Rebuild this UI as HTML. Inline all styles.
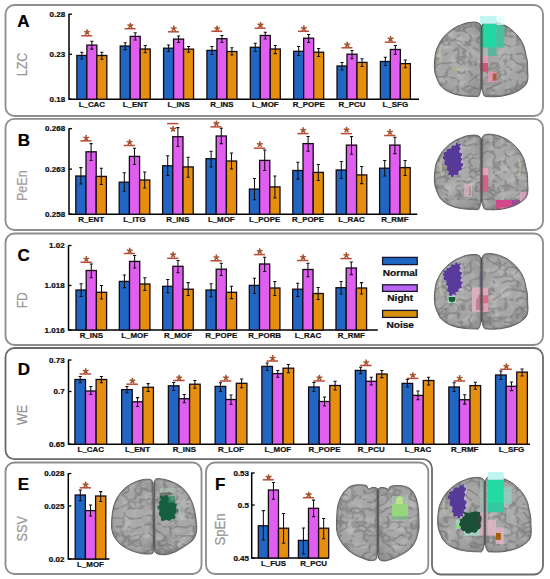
<!DOCTYPE html>
<html><head><meta charset="utf-8"><style>
html,body{margin:0;padding:0;background:#fff;}
body{width:550px;height:579px;overflow:hidden;}
svg{display:block;font-family:"Liberation Sans", sans-serif;}
</style></head><body>
<svg width="550" height="579" viewBox="0 0 550 579">
<defs>
<radialGradient id="bgrad" cx="50%" cy="45%" r="60%">
<stop offset="0" stop-color="#aeaeae"/><stop offset="0.7" stop-color="#a3a3a3"/><stop offset="1" stop-color="#929292"/>
</radialGradient>
<filter id="sul" x="0" y="0" width="1" height="1" color-interpolation-filters="sRGB">
<feTurbulence type="turbulence" baseFrequency="0.085 0.11" numOctaves="2" seed="4"/>
<feColorMatrix type="matrix" values="0 0 0 0 0.34  0 0 0 0 0.34  0 0 0 0 0.34  -3.8 0 0 0 0.95"/>
<feGaussianBlur stdDeviation="0.35"/>
</filter>
<filter id="hil" x="0" y="0" width="1" height="1" color-interpolation-filters="sRGB">
<feTurbulence type="fractalNoise" baseFrequency="0.09 0.12" numOctaves="2" seed="9"/>
<feColorMatrix type="matrix" values="0 0 0 0 0.78  0 0 0 0 0.78  0 0 0 0 0.78  3 0 0 0 -1.4"/>
</filter>
</defs>
<rect width="550" height="579" fill="#fff"/>
<clipPath id="bc1"><path d="M481,27 C480.72,24.25 480.33,24.3 479.5,23.5 C478.67,22.7 477.25,22.42 476,22.2 C474.75,21.98 473.67,22.07 472,22.2 C470.33,22.33 467.67,22.62 466,23 C464.33,23.38 463.5,23.92 462,24.5 C460.5,25.08 458.67,25.67 457,26.5 C455.33,27.33 453.67,28.33 452,29.5 C450.33,30.67 448.67,31.92 447,33.5 C445.33,35.08 443.42,37.08 442,39 C440.58,40.92 439.5,43 438.5,45 C437.5,47 436.58,49 436,51 C435.42,53 435.28,54.67 435,57 C434.72,59.33 434.3,62.33 434.3,65 C434.3,67.67 434.47,70.5 435,73 C435.53,75.5 436.67,78 437.5,80 C438.33,82 438.92,83.5 440,85 C441.08,86.5 442.33,87.75 444,89 C445.67,90.25 447.67,91.5 450,92.5 C452.33,93.5 455.17,94.38 458,95 C460.83,95.62 464.17,95.95 467,96.2 C469.83,96.45 473.08,96.48 475,96.5 C476.92,96.52 477.58,97.13 478.5,96.3 C479.42,95.47 480.05,93.22 480.5,91.5 C480.95,89.78 481.08,88.75 481.2,86 C481.32,83.25 481.2,80.17 481.2,75 C481.2,69.83 481.2,60.83 481.2,55 C481.2,49.17 481.23,44.67 481.2,40 C481.17,35.33 481.28,29.75 481,27 Z"/><path d="M482,27 C482.28,24.08 482.67,23.45 483.5,22.5 C484.33,21.55 485.92,21.52 487,21.3 C488.08,21.08 488.5,21.08 490,21.2 C491.5,21.32 494,21.53 496,22 C498,22.47 500,23.17 502,24 C504,24.83 506.17,25.83 508,27 C509.83,28.17 511.33,29.5 513,31 C514.67,32.5 516.5,34.17 518,36 C519.5,37.83 520.92,40 522,42 C523.08,44 523.83,45.83 524.5,48 C525.17,50.17 525.55,53 526,55 C526.45,57 526.93,58.25 527.2,60 C527.47,61.75 527.52,63.73 527.6,65.5 C527.68,67.27 527.63,68.93 527.7,70.6 C527.77,72.27 528.02,73.85 528,75.5 C527.98,77.15 527.93,79 527.6,80.5 C527.27,82 526.82,83.28 526,84.5 C525.18,85.72 524.07,86.7 522.7,87.8 C521.33,88.9 519.58,90.13 517.8,91.1 C516.02,92.07 513.9,92.92 512,93.6 C510.1,94.28 508.43,94.73 506.4,95.2 C504.37,95.67 501.98,96.13 499.8,96.4 C497.62,96.67 495.27,96.77 493.3,96.8 C491.33,96.83 489.47,96.72 488,96.6 C486.53,96.48 485.42,96.95 484.5,96.1 C483.58,95.25 482.95,93.18 482.5,91.5 C482.05,89.82 481.92,88.75 481.8,86 C481.68,83.25 481.8,80.17 481.8,75 C481.8,69.83 481.8,60.83 481.8,55 C481.8,49.17 481.77,44.67 481.8,40 C481.83,35.33 481.72,29.92 482,27 Z"/></clipPath>
<path d="M481,27 C480.72,24.25 480.33,24.3 479.5,23.5 C478.67,22.7 477.25,22.42 476,22.2 C474.75,21.98 473.67,22.07 472,22.2 C470.33,22.33 467.67,22.62 466,23 C464.33,23.38 463.5,23.92 462,24.5 C460.5,25.08 458.67,25.67 457,26.5 C455.33,27.33 453.67,28.33 452,29.5 C450.33,30.67 448.67,31.92 447,33.5 C445.33,35.08 443.42,37.08 442,39 C440.58,40.92 439.5,43 438.5,45 C437.5,47 436.58,49 436,51 C435.42,53 435.28,54.67 435,57 C434.72,59.33 434.3,62.33 434.3,65 C434.3,67.67 434.47,70.5 435,73 C435.53,75.5 436.67,78 437.5,80 C438.33,82 438.92,83.5 440,85 C441.08,86.5 442.33,87.75 444,89 C445.67,90.25 447.67,91.5 450,92.5 C452.33,93.5 455.17,94.38 458,95 C460.83,95.62 464.17,95.95 467,96.2 C469.83,96.45 473.08,96.48 475,96.5 C476.92,96.52 477.58,97.13 478.5,96.3 C479.42,95.47 480.05,93.22 480.5,91.5 C480.95,89.78 481.08,88.75 481.2,86 C481.32,83.25 481.2,80.17 481.2,75 C481.2,69.83 481.2,60.83 481.2,55 C481.2,49.17 481.23,44.67 481.2,40 C481.17,35.33 481.28,29.75 481,27 Z" fill="url(#bgrad)"/>
<path d="M482,27 C482.28,24.08 482.67,23.45 483.5,22.5 C484.33,21.55 485.92,21.52 487,21.3 C488.08,21.08 488.5,21.08 490,21.2 C491.5,21.32 494,21.53 496,22 C498,22.47 500,23.17 502,24 C504,24.83 506.17,25.83 508,27 C509.83,28.17 511.33,29.5 513,31 C514.67,32.5 516.5,34.17 518,36 C519.5,37.83 520.92,40 522,42 C523.08,44 523.83,45.83 524.5,48 C525.17,50.17 525.55,53 526,55 C526.45,57 526.93,58.25 527.2,60 C527.47,61.75 527.52,63.73 527.6,65.5 C527.68,67.27 527.63,68.93 527.7,70.6 C527.77,72.27 528.02,73.85 528,75.5 C527.98,77.15 527.93,79 527.6,80.5 C527.27,82 526.82,83.28 526,84.5 C525.18,85.72 524.07,86.7 522.7,87.8 C521.33,88.9 519.58,90.13 517.8,91.1 C516.02,92.07 513.9,92.92 512,93.6 C510.1,94.28 508.43,94.73 506.4,95.2 C504.37,95.67 501.98,96.13 499.8,96.4 C497.62,96.67 495.27,96.77 493.3,96.8 C491.33,96.83 489.47,96.72 488,96.6 C486.53,96.48 485.42,96.95 484.5,96.1 C483.58,95.25 482.95,93.18 482.5,91.5 C482.05,89.82 481.92,88.75 481.8,86 C481.68,83.25 481.8,80.17 481.8,75 C481.8,69.83 481.8,60.83 481.8,55 C481.8,49.17 481.77,44.67 481.8,40 C481.83,35.33 481.72,29.92 482,27 Z" fill="url(#bgrad)"/>
<g clip-path="url(#bc1)">
<rect x="434.3" y="21.2" width="93.7" height="75.6" filter="url(#hil)" opacity="0.6"/>
<rect x="434.3" y="21.2" width="93.7" height="75.6" filter="url(#sul)" opacity="0.5"/>
<path d="M442,44 Q438,52 441,62" stroke="#d6cfa6" stroke-width="2" fill="none" stroke-opacity="0.45"/>
<path d="M452,68 Q456,70 460,70" stroke="#d0cc80" stroke-width="2.4" fill="none" stroke-opacity="0.5"/>
<rect x="480" y="23.7" width="16.6" height="23.9" fill="#22d8a2" fill-opacity="1"/>
<rect x="496.6" y="25" width="7.7" height="22.6" fill="#48bf9f" fill-opacity="1"/>
<rect x="488" y="47.6" width="8.6" height="8.4" fill="#5cb49c" fill-opacity="1"/>
<rect x="480" y="47.6" width="8" height="8.4" fill="#a8bcb4" fill-opacity="0.7"/>
<rect x="480" y="56" width="8" height="7" fill="#dc9cb4" fill-opacity="1"/>
<rect x="480" y="63" width="8" height="8.6" fill="#cc5476" fill-opacity="1"/>
<rect x="488" y="71.6" width="8.6" height="10.4" fill="#e296ae" fill-opacity="0.9"/>
<rect x="492.7" y="73.5" width="3.9" height="7.1" fill="#a4562a" fill-opacity="0.9"/>
<path d="M481,27 C480.72,24.25 480.33,24.3 479.5,23.5 C478.67,22.7 477.25,22.42 476,22.2 C474.75,21.98 473.67,22.07 472,22.2 C470.33,22.33 467.67,22.62 466,23 C464.33,23.38 463.5,23.92 462,24.5 C460.5,25.08 458.67,25.67 457,26.5 C455.33,27.33 453.67,28.33 452,29.5 C450.33,30.67 448.67,31.92 447,33.5 C445.33,35.08 443.42,37.08 442,39 C440.58,40.92 439.5,43 438.5,45 C437.5,47 436.58,49 436,51 C435.42,53 435.28,54.67 435,57 C434.72,59.33 434.3,62.33 434.3,65 C434.3,67.67 434.47,70.5 435,73 C435.53,75.5 436.67,78 437.5,80 C438.33,82 438.92,83.5 440,85 C441.08,86.5 442.33,87.75 444,89 C445.67,90.25 447.67,91.5 450,92.5 C452.33,93.5 455.17,94.38 458,95 C460.83,95.62 464.17,95.95 467,96.2 C469.83,96.45 473.08,96.48 475,96.5 C476.92,96.52 477.58,97.13 478.5,96.3 C479.42,95.47 480.05,93.22 480.5,91.5 C480.95,89.78 481.08,88.75 481.2,86 C481.32,83.25 481.2,80.17 481.2,75 C481.2,69.83 481.2,60.83 481.2,55 C481.2,49.17 481.23,44.67 481.2,40 C481.17,35.33 481.28,29.75 481,27 Z" fill="none" stroke="#6a6a6a" stroke-opacity="0.35" stroke-width="3"/>
<path d="M482,27 C482.28,24.08 482.67,23.45 483.5,22.5 C484.33,21.55 485.92,21.52 487,21.3 C488.08,21.08 488.5,21.08 490,21.2 C491.5,21.32 494,21.53 496,22 C498,22.47 500,23.17 502,24 C504,24.83 506.17,25.83 508,27 C509.83,28.17 511.33,29.5 513,31 C514.67,32.5 516.5,34.17 518,36 C519.5,37.83 520.92,40 522,42 C523.08,44 523.83,45.83 524.5,48 C525.17,50.17 525.55,53 526,55 C526.45,57 526.93,58.25 527.2,60 C527.47,61.75 527.52,63.73 527.6,65.5 C527.68,67.27 527.63,68.93 527.7,70.6 C527.77,72.27 528.02,73.85 528,75.5 C527.98,77.15 527.93,79 527.6,80.5 C527.27,82 526.82,83.28 526,84.5 C525.18,85.72 524.07,86.7 522.7,87.8 C521.33,88.9 519.58,90.13 517.8,91.1 C516.02,92.07 513.9,92.92 512,93.6 C510.1,94.28 508.43,94.73 506.4,95.2 C504.37,95.67 501.98,96.13 499.8,96.4 C497.62,96.67 495.27,96.77 493.3,96.8 C491.33,96.83 489.47,96.72 488,96.6 C486.53,96.48 485.42,96.95 484.5,96.1 C483.58,95.25 482.95,93.18 482.5,91.5 C482.05,89.82 481.92,88.75 481.8,86 C481.68,83.25 481.8,80.17 481.8,75 C481.8,69.83 481.8,60.83 481.8,55 C481.8,49.17 481.77,44.67 481.8,40 C481.83,35.33 481.72,29.92 482,27 Z" fill="none" stroke="#6a6a6a" stroke-opacity="0.35" stroke-width="3"/>
</g>
<path d="M481,27 C480.72,24.25 480.33,24.3 479.5,23.5 C478.67,22.7 477.25,22.42 476,22.2 C474.75,21.98 473.67,22.07 472,22.2 C470.33,22.33 467.67,22.62 466,23 C464.33,23.38 463.5,23.92 462,24.5 C460.5,25.08 458.67,25.67 457,26.5 C455.33,27.33 453.67,28.33 452,29.5 C450.33,30.67 448.67,31.92 447,33.5 C445.33,35.08 443.42,37.08 442,39 C440.58,40.92 439.5,43 438.5,45 C437.5,47 436.58,49 436,51 C435.42,53 435.28,54.67 435,57 C434.72,59.33 434.3,62.33 434.3,65 C434.3,67.67 434.47,70.5 435,73 C435.53,75.5 436.67,78 437.5,80 C438.33,82 438.92,83.5 440,85 C441.08,86.5 442.33,87.75 444,89 C445.67,90.25 447.67,91.5 450,92.5 C452.33,93.5 455.17,94.38 458,95 C460.83,95.62 464.17,95.95 467,96.2 C469.83,96.45 473.08,96.48 475,96.5 C476.92,96.52 477.58,97.13 478.5,96.3 C479.42,95.47 480.05,93.22 480.5,91.5 C480.95,89.78 481.08,88.75 481.2,86 C481.32,83.25 481.2,80.17 481.2,75 C481.2,69.83 481.2,60.83 481.2,55 C481.2,49.17 481.23,44.67 481.2,40 C481.17,35.33 481.28,29.75 481,27 Z" fill="none" stroke="#5a5a5a" stroke-width="0.9"/>
<path d="M482,27 C482.28,24.08 482.67,23.45 483.5,22.5 C484.33,21.55 485.92,21.52 487,21.3 C488.08,21.08 488.5,21.08 490,21.2 C491.5,21.32 494,21.53 496,22 C498,22.47 500,23.17 502,24 C504,24.83 506.17,25.83 508,27 C509.83,28.17 511.33,29.5 513,31 C514.67,32.5 516.5,34.17 518,36 C519.5,37.83 520.92,40 522,42 C523.08,44 523.83,45.83 524.5,48 C525.17,50.17 525.55,53 526,55 C526.45,57 526.93,58.25 527.2,60 C527.47,61.75 527.52,63.73 527.6,65.5 C527.68,67.27 527.63,68.93 527.7,70.6 C527.77,72.27 528.02,73.85 528,75.5 C527.98,77.15 527.93,79 527.6,80.5 C527.27,82 526.82,83.28 526,84.5 C525.18,85.72 524.07,86.7 522.7,87.8 C521.33,88.9 519.58,90.13 517.8,91.1 C516.02,92.07 513.9,92.92 512,93.6 C510.1,94.28 508.43,94.73 506.4,95.2 C504.37,95.67 501.98,96.13 499.8,96.4 C497.62,96.67 495.27,96.77 493.3,96.8 C491.33,96.83 489.47,96.72 488,96.6 C486.53,96.48 485.42,96.95 484.5,96.1 C483.58,95.25 482.95,93.18 482.5,91.5 C482.05,89.82 481.92,88.75 481.8,86 C481.68,83.25 481.8,80.17 481.8,75 C481.8,69.83 481.8,60.83 481.8,55 C481.8,49.17 481.77,44.67 481.8,40 C481.83,35.33 481.72,29.92 482,27 Z" fill="none" stroke="#5a5a5a" stroke-width="0.9"/>
<path d="M481.5,25.2 V89.5" stroke="#555" stroke-width="1.3"/>
<rect x="480.1" y="15.9" width="16.5" height="7.8" fill="#c0f6f2" fill-opacity="1"/>
<rect x="496.6" y="15.9" width="7.7" height="9.1" fill="#e2fbfa" fill-opacity="0.8"/>
<clipPath id="bc2"><path d="M481,140 C480.72,137.25 480.33,137.3 479.5,136.5 C478.67,135.7 477.25,135.42 476,135.2 C474.75,134.98 473.67,135.07 472,135.2 C470.33,135.33 467.67,135.62 466,136 C464.33,136.38 463.5,136.92 462,137.5 C460.5,138.08 458.67,138.67 457,139.5 C455.33,140.33 453.67,141.33 452,142.5 C450.33,143.67 448.67,144.92 447,146.5 C445.33,148.08 443.42,150.08 442,152 C440.58,153.92 439.5,156 438.5,158 C437.5,160 436.58,162 436,164 C435.42,166 435.28,167.67 435,170 C434.72,172.33 434.3,175.33 434.3,178 C434.3,180.67 434.47,183.5 435,186 C435.53,188.5 436.67,191 437.5,193 C438.33,195 438.92,196.5 440,198 C441.08,199.5 442.33,200.75 444,202 C445.67,203.25 447.67,204.5 450,205.5 C452.33,206.5 455.17,207.38 458,208 C460.83,208.62 464.17,208.95 467,209.2 C469.83,209.45 473.08,209.48 475,209.5 C476.92,209.52 477.58,210.13 478.5,209.3 C479.42,208.47 480.05,206.22 480.5,204.5 C480.95,202.78 481.08,201.75 481.2,199 C481.32,196.25 481.2,193.17 481.2,188 C481.2,182.83 481.2,173.83 481.2,168 C481.2,162.17 481.23,157.67 481.2,153 C481.17,148.33 481.28,142.75 481,140 Z"/><path d="M482,140 C482.28,137.08 482.67,136.45 483.5,135.5 C484.33,134.55 485.92,134.52 487,134.3 C488.08,134.08 488.5,134.08 490,134.2 C491.5,134.32 494,134.53 496,135 C498,135.47 500,136.17 502,137 C504,137.83 506.17,138.83 508,140 C509.83,141.17 511.33,142.5 513,144 C514.67,145.5 516.5,147.17 518,149 C519.5,150.83 520.92,153 522,155 C523.08,157 523.83,158.83 524.5,161 C525.17,163.17 525.55,166 526,168 C526.45,170 526.93,171.25 527.2,173 C527.47,174.75 527.52,176.73 527.6,178.5 C527.68,180.27 527.63,181.93 527.7,183.6 C527.77,185.27 528.02,186.85 528,188.5 C527.98,190.15 527.93,192 527.6,193.5 C527.27,195 526.82,196.28 526,197.5 C525.18,198.72 524.07,199.7 522.7,200.8 C521.33,201.9 519.58,203.13 517.8,204.1 C516.02,205.07 513.9,205.92 512,206.6 C510.1,207.28 508.43,207.73 506.4,208.2 C504.37,208.67 501.98,209.13 499.8,209.4 C497.62,209.67 495.27,209.77 493.3,209.8 C491.33,209.83 489.47,209.72 488,209.6 C486.53,209.48 485.42,209.95 484.5,209.1 C483.58,208.25 482.95,206.18 482.5,204.5 C482.05,202.82 481.92,201.75 481.8,199 C481.68,196.25 481.8,193.17 481.8,188 C481.8,182.83 481.8,173.83 481.8,168 C481.8,162.17 481.77,157.67 481.8,153 C481.83,148.33 481.72,142.92 482,140 Z"/></clipPath>
<path d="M481,140 C480.72,137.25 480.33,137.3 479.5,136.5 C478.67,135.7 477.25,135.42 476,135.2 C474.75,134.98 473.67,135.07 472,135.2 C470.33,135.33 467.67,135.62 466,136 C464.33,136.38 463.5,136.92 462,137.5 C460.5,138.08 458.67,138.67 457,139.5 C455.33,140.33 453.67,141.33 452,142.5 C450.33,143.67 448.67,144.92 447,146.5 C445.33,148.08 443.42,150.08 442,152 C440.58,153.92 439.5,156 438.5,158 C437.5,160 436.58,162 436,164 C435.42,166 435.28,167.67 435,170 C434.72,172.33 434.3,175.33 434.3,178 C434.3,180.67 434.47,183.5 435,186 C435.53,188.5 436.67,191 437.5,193 C438.33,195 438.92,196.5 440,198 C441.08,199.5 442.33,200.75 444,202 C445.67,203.25 447.67,204.5 450,205.5 C452.33,206.5 455.17,207.38 458,208 C460.83,208.62 464.17,208.95 467,209.2 C469.83,209.45 473.08,209.48 475,209.5 C476.92,209.52 477.58,210.13 478.5,209.3 C479.42,208.47 480.05,206.22 480.5,204.5 C480.95,202.78 481.08,201.75 481.2,199 C481.32,196.25 481.2,193.17 481.2,188 C481.2,182.83 481.2,173.83 481.2,168 C481.2,162.17 481.23,157.67 481.2,153 C481.17,148.33 481.28,142.75 481,140 Z" fill="url(#bgrad)"/>
<path d="M482,140 C482.28,137.08 482.67,136.45 483.5,135.5 C484.33,134.55 485.92,134.52 487,134.3 C488.08,134.08 488.5,134.08 490,134.2 C491.5,134.32 494,134.53 496,135 C498,135.47 500,136.17 502,137 C504,137.83 506.17,138.83 508,140 C509.83,141.17 511.33,142.5 513,144 C514.67,145.5 516.5,147.17 518,149 C519.5,150.83 520.92,153 522,155 C523.08,157 523.83,158.83 524.5,161 C525.17,163.17 525.55,166 526,168 C526.45,170 526.93,171.25 527.2,173 C527.47,174.75 527.52,176.73 527.6,178.5 C527.68,180.27 527.63,181.93 527.7,183.6 C527.77,185.27 528.02,186.85 528,188.5 C527.98,190.15 527.93,192 527.6,193.5 C527.27,195 526.82,196.28 526,197.5 C525.18,198.72 524.07,199.7 522.7,200.8 C521.33,201.9 519.58,203.13 517.8,204.1 C516.02,205.07 513.9,205.92 512,206.6 C510.1,207.28 508.43,207.73 506.4,208.2 C504.37,208.67 501.98,209.13 499.8,209.4 C497.62,209.67 495.27,209.77 493.3,209.8 C491.33,209.83 489.47,209.72 488,209.6 C486.53,209.48 485.42,209.95 484.5,209.1 C483.58,208.25 482.95,206.18 482.5,204.5 C482.05,202.82 481.92,201.75 481.8,199 C481.68,196.25 481.8,193.17 481.8,188 C481.8,182.83 481.8,173.83 481.8,168 C481.8,162.17 481.77,157.67 481.8,153 C481.83,148.33 481.72,142.92 482,140 Z" fill="url(#bgrad)"/>
<g clip-path="url(#bc2)">
<rect x="434.3" y="134.2" width="93.7" height="75.6" filter="url(#hil)" opacity="0.6"/>
<rect x="434.3" y="134.2" width="93.7" height="75.6" filter="url(#sul)" opacity="0.5"/>
<path d="M442,157 Q439,166 442,176" stroke="#d6cfa6" stroke-width="2.2" fill="none" stroke-opacity="0.45"/>
<path d="M518,158 Q522,166 519,176" stroke="#d6cfa6" stroke-width="2" fill="none" stroke-opacity="0.45"/>
<path d="M459,143.2 C459.68,143.14 461.73,144.17 461.9,144.9 C462.07,145.63 460.59,149.43 460.7,150.5 C460.81,151.57 462.83,154.58 463,155.6 C463.17,156.62 462.29,159.69 462.4,160.7 C462.51,161.71 464.15,164.75 464.1,165.7 C464.05,166.65 462.57,169.24 461.9,170.2 C461.23,171.16 458.36,174.68 457.4,175.3 C456.44,175.92 453.09,176.57 452.3,176.4 C451.51,176.23 449.89,174.44 449.5,173.6 C449.11,172.76 448.79,169.13 448.4,168 C448.01,166.87 446,163.48 445.6,162.3 C445.2,161.12 444.4,157.21 444.4,156.2 C444.4,155.19 445.03,152.93 445.6,152.2 C446.17,151.47 449.15,149.57 450.1,148.9 C451.05,148.23 454.21,146.07 455.1,145.5 C455.99,144.93 458.32,143.26 459,143.2 Z" fill="#c8b8dc" fill-opacity="0.7"/>
<path d="M457.8,143.2 C458.03,143.33 458.06,144.5 458.3,144.54 C458.54,144.57 459.93,143.51 460.17,143.55 C460.41,143.58 460.77,144.6 460.7,144.9 C460.63,145.2 459.42,146.17 459.42,146.56 C459.43,146.95 460.78,148.39 460.79,148.78 C460.8,149.18 459.63,150.12 459.5,150.5 C459.37,150.88 459.2,152.25 459.44,152.55 C459.67,152.85 461.6,153.19 461.84,153.5 C462.07,153.8 461.91,155.23 461.8,155.6 C461.69,155.97 460.66,156.83 460.71,157.18 C460.76,157.52 462.25,158.72 462.3,159.07 C462.35,159.42 461.34,160.34 461.2,160.7 C461.06,161.06 460.71,162.34 460.91,162.64 C461.11,162.94 462.97,163.4 463.17,163.71 C463.37,164.02 463.08,165.39 462.9,165.7 C462.72,166.01 461.43,166.45 461.37,166.79 C461.3,167.13 462.32,168.72 462.26,169.07 C462.19,169.41 461.07,169.98 460.7,170.2 C460.33,170.42 458.77,170.89 458.54,171.29 C458.31,171.68 458.64,173.76 458.4,174.16 C458.17,174.56 456.61,175.24 456.2,175.3 C455.79,175.36 454.64,174.62 454.33,174.78 C454.01,174.94 453.35,176.74 453.02,176.91 C452.7,177.07 451.32,176.61 451.1,176.4 C450.88,176.19 451.06,174.96 450.81,174.84 C450.56,174.72 448.87,175.31 448.62,175.19 C448.36,175.06 448.28,173.96 448.3,173.6 C448.32,173.24 448.98,171.93 448.82,171.58 C448.66,171.23 446.85,170.44 446.69,170.08 C446.53,169.72 447.16,168.44 447.2,168 C447.24,167.56 447.35,166.06 447.08,165.72 C446.82,165.39 444.81,164.98 444.54,164.63 C444.28,164.29 444.37,162.75 444.4,162.3 C444.43,161.85 445.05,160.5 444.89,160.11 C444.72,159.73 442.89,158.84 442.72,158.45 C442.56,158.06 443.03,156.53 443.2,156.2 C443.37,155.87 444.47,155.43 444.46,155.14 C444.45,154.85 443.14,153.6 443.13,153.3 C443.12,153.01 444.07,152.35 444.4,152.2 C444.73,152.05 446.17,152.13 446.42,151.84 C446.66,151.55 446.59,149.59 446.84,149.3 C447.09,149 448.48,148.98 448.9,148.9 C449.32,148.82 450.78,148.82 451.06,148.52 C451.34,148.22 451.41,146.21 451.69,145.91 C451.98,145.61 453.5,145.54 453.9,145.5 C454.3,145.46 455.43,145.75 455.64,145.52 C455.86,145.29 455.8,143.44 456.02,143.21 C456.23,142.98 457.57,143.07 457.8,143.2 Z" fill="#563a98" fill-opacity="1"/>
<rect x="480.3" y="168" width="7.9" height="7.3" fill="#e4a4bc" fill-opacity="1"/>
<rect x="480.3" y="175.3" width="7.9" height="16.2" fill="#d26284" fill-opacity="1"/>
<rect x="464" y="184.2" width="8" height="12.8" fill="#e2bacb" fill-opacity="0.6"/>
<rect x="469" y="186" width="1.8" height="10" fill="#b07040" fill-opacity="0.45"/>
<rect x="520" y="192" width="8" height="18" fill="#e4a6c4" fill-opacity="0.8"/>
<rect x="496" y="200" width="16" height="10" fill="#d2488a" fill-opacity="1"/>
<rect x="512" y="200" width="8" height="10" fill="#9a4c96" fill-opacity="1"/>
<rect x="500" y="207.5" width="28" height="3.5" fill="#f2c4e4" fill-opacity="0.6"/>
<path d="M481,140 C480.72,137.25 480.33,137.3 479.5,136.5 C478.67,135.7 477.25,135.42 476,135.2 C474.75,134.98 473.67,135.07 472,135.2 C470.33,135.33 467.67,135.62 466,136 C464.33,136.38 463.5,136.92 462,137.5 C460.5,138.08 458.67,138.67 457,139.5 C455.33,140.33 453.67,141.33 452,142.5 C450.33,143.67 448.67,144.92 447,146.5 C445.33,148.08 443.42,150.08 442,152 C440.58,153.92 439.5,156 438.5,158 C437.5,160 436.58,162 436,164 C435.42,166 435.28,167.67 435,170 C434.72,172.33 434.3,175.33 434.3,178 C434.3,180.67 434.47,183.5 435,186 C435.53,188.5 436.67,191 437.5,193 C438.33,195 438.92,196.5 440,198 C441.08,199.5 442.33,200.75 444,202 C445.67,203.25 447.67,204.5 450,205.5 C452.33,206.5 455.17,207.38 458,208 C460.83,208.62 464.17,208.95 467,209.2 C469.83,209.45 473.08,209.48 475,209.5 C476.92,209.52 477.58,210.13 478.5,209.3 C479.42,208.47 480.05,206.22 480.5,204.5 C480.95,202.78 481.08,201.75 481.2,199 C481.32,196.25 481.2,193.17 481.2,188 C481.2,182.83 481.2,173.83 481.2,168 C481.2,162.17 481.23,157.67 481.2,153 C481.17,148.33 481.28,142.75 481,140 Z" fill="none" stroke="#6a6a6a" stroke-opacity="0.35" stroke-width="3"/>
<path d="M482,140 C482.28,137.08 482.67,136.45 483.5,135.5 C484.33,134.55 485.92,134.52 487,134.3 C488.08,134.08 488.5,134.08 490,134.2 C491.5,134.32 494,134.53 496,135 C498,135.47 500,136.17 502,137 C504,137.83 506.17,138.83 508,140 C509.83,141.17 511.33,142.5 513,144 C514.67,145.5 516.5,147.17 518,149 C519.5,150.83 520.92,153 522,155 C523.08,157 523.83,158.83 524.5,161 C525.17,163.17 525.55,166 526,168 C526.45,170 526.93,171.25 527.2,173 C527.47,174.75 527.52,176.73 527.6,178.5 C527.68,180.27 527.63,181.93 527.7,183.6 C527.77,185.27 528.02,186.85 528,188.5 C527.98,190.15 527.93,192 527.6,193.5 C527.27,195 526.82,196.28 526,197.5 C525.18,198.72 524.07,199.7 522.7,200.8 C521.33,201.9 519.58,203.13 517.8,204.1 C516.02,205.07 513.9,205.92 512,206.6 C510.1,207.28 508.43,207.73 506.4,208.2 C504.37,208.67 501.98,209.13 499.8,209.4 C497.62,209.67 495.27,209.77 493.3,209.8 C491.33,209.83 489.47,209.72 488,209.6 C486.53,209.48 485.42,209.95 484.5,209.1 C483.58,208.25 482.95,206.18 482.5,204.5 C482.05,202.82 481.92,201.75 481.8,199 C481.68,196.25 481.8,193.17 481.8,188 C481.8,182.83 481.8,173.83 481.8,168 C481.8,162.17 481.77,157.67 481.8,153 C481.83,148.33 481.72,142.92 482,140 Z" fill="none" stroke="#6a6a6a" stroke-opacity="0.35" stroke-width="3"/>
</g>
<path d="M481,140 C480.72,137.25 480.33,137.3 479.5,136.5 C478.67,135.7 477.25,135.42 476,135.2 C474.75,134.98 473.67,135.07 472,135.2 C470.33,135.33 467.67,135.62 466,136 C464.33,136.38 463.5,136.92 462,137.5 C460.5,138.08 458.67,138.67 457,139.5 C455.33,140.33 453.67,141.33 452,142.5 C450.33,143.67 448.67,144.92 447,146.5 C445.33,148.08 443.42,150.08 442,152 C440.58,153.92 439.5,156 438.5,158 C437.5,160 436.58,162 436,164 C435.42,166 435.28,167.67 435,170 C434.72,172.33 434.3,175.33 434.3,178 C434.3,180.67 434.47,183.5 435,186 C435.53,188.5 436.67,191 437.5,193 C438.33,195 438.92,196.5 440,198 C441.08,199.5 442.33,200.75 444,202 C445.67,203.25 447.67,204.5 450,205.5 C452.33,206.5 455.17,207.38 458,208 C460.83,208.62 464.17,208.95 467,209.2 C469.83,209.45 473.08,209.48 475,209.5 C476.92,209.52 477.58,210.13 478.5,209.3 C479.42,208.47 480.05,206.22 480.5,204.5 C480.95,202.78 481.08,201.75 481.2,199 C481.32,196.25 481.2,193.17 481.2,188 C481.2,182.83 481.2,173.83 481.2,168 C481.2,162.17 481.23,157.67 481.2,153 C481.17,148.33 481.28,142.75 481,140 Z" fill="none" stroke="#5a5a5a" stroke-width="0.9"/>
<path d="M482,140 C482.28,137.08 482.67,136.45 483.5,135.5 C484.33,134.55 485.92,134.52 487,134.3 C488.08,134.08 488.5,134.08 490,134.2 C491.5,134.32 494,134.53 496,135 C498,135.47 500,136.17 502,137 C504,137.83 506.17,138.83 508,140 C509.83,141.17 511.33,142.5 513,144 C514.67,145.5 516.5,147.17 518,149 C519.5,150.83 520.92,153 522,155 C523.08,157 523.83,158.83 524.5,161 C525.17,163.17 525.55,166 526,168 C526.45,170 526.93,171.25 527.2,173 C527.47,174.75 527.52,176.73 527.6,178.5 C527.68,180.27 527.63,181.93 527.7,183.6 C527.77,185.27 528.02,186.85 528,188.5 C527.98,190.15 527.93,192 527.6,193.5 C527.27,195 526.82,196.28 526,197.5 C525.18,198.72 524.07,199.7 522.7,200.8 C521.33,201.9 519.58,203.13 517.8,204.1 C516.02,205.07 513.9,205.92 512,206.6 C510.1,207.28 508.43,207.73 506.4,208.2 C504.37,208.67 501.98,209.13 499.8,209.4 C497.62,209.67 495.27,209.77 493.3,209.8 C491.33,209.83 489.47,209.72 488,209.6 C486.53,209.48 485.42,209.95 484.5,209.1 C483.58,208.25 482.95,206.18 482.5,204.5 C482.05,202.82 481.92,201.75 481.8,199 C481.68,196.25 481.8,193.17 481.8,188 C481.8,182.83 481.8,173.83 481.8,168 C481.8,162.17 481.77,157.67 481.8,153 C481.83,148.33 481.72,142.92 482,140 Z" fill="none" stroke="#5a5a5a" stroke-width="0.9"/>
<path d="M481.5,138.2 V202.5" stroke="#555" stroke-width="1.3"/>
<clipPath id="bc3"><path d="M481,259.4 C480.72,256.65 480.33,256.7 479.5,255.9 C478.67,255.1 477.25,254.82 476,254.6 C474.75,254.38 473.67,254.47 472,254.6 C470.33,254.73 467.67,255.02 466,255.4 C464.33,255.78 463.5,256.32 462,256.9 C460.5,257.48 458.67,258.07 457,258.9 C455.33,259.73 453.67,260.73 452,261.9 C450.33,263.07 448.67,264.32 447,265.9 C445.33,267.48 443.42,269.48 442,271.4 C440.58,273.32 439.5,275.4 438.5,277.4 C437.5,279.4 436.58,281.4 436,283.4 C435.42,285.4 435.28,287.07 435,289.4 C434.72,291.73 434.3,294.73 434.3,297.4 C434.3,300.07 434.47,302.9 435,305.4 C435.53,307.9 436.67,310.4 437.5,312.4 C438.33,314.4 438.92,315.9 440,317.4 C441.08,318.9 442.33,320.15 444,321.4 C445.67,322.65 447.67,323.9 450,324.9 C452.33,325.9 455.17,326.78 458,327.4 C460.83,328.02 464.17,328.35 467,328.6 C469.83,328.85 473.08,328.88 475,328.9 C476.92,328.92 477.58,329.53 478.5,328.7 C479.42,327.87 480.05,325.62 480.5,323.9 C480.95,322.18 481.08,321.15 481.2,318.4 C481.32,315.65 481.2,312.57 481.2,307.4 C481.2,302.23 481.2,293.23 481.2,287.4 C481.2,281.57 481.23,277.07 481.2,272.4 C481.17,267.73 481.28,262.15 481,259.4 Z"/><path d="M482,259.4 C482.28,256.48 482.67,255.85 483.5,254.9 C484.33,253.95 485.92,253.92 487,253.7 C488.08,253.48 488.5,253.48 490,253.6 C491.5,253.72 494,253.93 496,254.4 C498,254.87 500,255.57 502,256.4 C504,257.23 506.17,258.23 508,259.4 C509.83,260.57 511.33,261.9 513,263.4 C514.67,264.9 516.5,266.57 518,268.4 C519.5,270.23 520.92,272.4 522,274.4 C523.08,276.4 523.83,278.23 524.5,280.4 C525.17,282.57 525.55,285.4 526,287.4 C526.45,289.4 526.93,290.65 527.2,292.4 C527.47,294.15 527.52,296.13 527.6,297.9 C527.68,299.67 527.63,301.33 527.7,303 C527.77,304.67 528.02,306.25 528,307.9 C527.98,309.55 527.93,311.4 527.6,312.9 C527.27,314.4 526.82,315.68 526,316.9 C525.18,318.12 524.07,319.1 522.7,320.2 C521.33,321.3 519.58,322.53 517.8,323.5 C516.02,324.47 513.9,325.32 512,326 C510.1,326.68 508.43,327.13 506.4,327.6 C504.37,328.07 501.98,328.53 499.8,328.8 C497.62,329.07 495.27,329.17 493.3,329.2 C491.33,329.23 489.47,329.12 488,329 C486.53,328.88 485.42,329.35 484.5,328.5 C483.58,327.65 482.95,325.58 482.5,323.9 C482.05,322.22 481.92,321.15 481.8,318.4 C481.68,315.65 481.8,312.57 481.8,307.4 C481.8,302.23 481.8,293.23 481.8,287.4 C481.8,281.57 481.77,277.07 481.8,272.4 C481.83,267.73 481.72,262.32 482,259.4 Z"/></clipPath>
<path d="M481,259.4 C480.72,256.65 480.33,256.7 479.5,255.9 C478.67,255.1 477.25,254.82 476,254.6 C474.75,254.38 473.67,254.47 472,254.6 C470.33,254.73 467.67,255.02 466,255.4 C464.33,255.78 463.5,256.32 462,256.9 C460.5,257.48 458.67,258.07 457,258.9 C455.33,259.73 453.67,260.73 452,261.9 C450.33,263.07 448.67,264.32 447,265.9 C445.33,267.48 443.42,269.48 442,271.4 C440.58,273.32 439.5,275.4 438.5,277.4 C437.5,279.4 436.58,281.4 436,283.4 C435.42,285.4 435.28,287.07 435,289.4 C434.72,291.73 434.3,294.73 434.3,297.4 C434.3,300.07 434.47,302.9 435,305.4 C435.53,307.9 436.67,310.4 437.5,312.4 C438.33,314.4 438.92,315.9 440,317.4 C441.08,318.9 442.33,320.15 444,321.4 C445.67,322.65 447.67,323.9 450,324.9 C452.33,325.9 455.17,326.78 458,327.4 C460.83,328.02 464.17,328.35 467,328.6 C469.83,328.85 473.08,328.88 475,328.9 C476.92,328.92 477.58,329.53 478.5,328.7 C479.42,327.87 480.05,325.62 480.5,323.9 C480.95,322.18 481.08,321.15 481.2,318.4 C481.32,315.65 481.2,312.57 481.2,307.4 C481.2,302.23 481.2,293.23 481.2,287.4 C481.2,281.57 481.23,277.07 481.2,272.4 C481.17,267.73 481.28,262.15 481,259.4 Z" fill="url(#bgrad)"/>
<path d="M482,259.4 C482.28,256.48 482.67,255.85 483.5,254.9 C484.33,253.95 485.92,253.92 487,253.7 C488.08,253.48 488.5,253.48 490,253.6 C491.5,253.72 494,253.93 496,254.4 C498,254.87 500,255.57 502,256.4 C504,257.23 506.17,258.23 508,259.4 C509.83,260.57 511.33,261.9 513,263.4 C514.67,264.9 516.5,266.57 518,268.4 C519.5,270.23 520.92,272.4 522,274.4 C523.08,276.4 523.83,278.23 524.5,280.4 C525.17,282.57 525.55,285.4 526,287.4 C526.45,289.4 526.93,290.65 527.2,292.4 C527.47,294.15 527.52,296.13 527.6,297.9 C527.68,299.67 527.63,301.33 527.7,303 C527.77,304.67 528.02,306.25 528,307.9 C527.98,309.55 527.93,311.4 527.6,312.9 C527.27,314.4 526.82,315.68 526,316.9 C525.18,318.12 524.07,319.1 522.7,320.2 C521.33,321.3 519.58,322.53 517.8,323.5 C516.02,324.47 513.9,325.32 512,326 C510.1,326.68 508.43,327.13 506.4,327.6 C504.37,328.07 501.98,328.53 499.8,328.8 C497.62,329.07 495.27,329.17 493.3,329.2 C491.33,329.23 489.47,329.12 488,329 C486.53,328.88 485.42,329.35 484.5,328.5 C483.58,327.65 482.95,325.58 482.5,323.9 C482.05,322.22 481.92,321.15 481.8,318.4 C481.68,315.65 481.8,312.57 481.8,307.4 C481.8,302.23 481.8,293.23 481.8,287.4 C481.8,281.57 481.77,277.07 481.8,272.4 C481.83,267.73 481.72,262.32 482,259.4 Z" fill="url(#bgrad)"/>
<g clip-path="url(#bc3)">
<rect x="434.3" y="253.6" width="93.7" height="75.6" filter="url(#hil)" opacity="0.6"/>
<rect x="434.3" y="253.6" width="93.7" height="75.6" filter="url(#sul)" opacity="0.5"/>
<path d="M442,273 Q438,284 442,296" stroke="#d6cfa6" stroke-width="2.2" fill="none" stroke-opacity="0.45"/>
<path d="M458.5,262.9 C459.24,262.9 461.68,263.92 461.9,264.6 C462.12,265.28 460.59,268.74 460.7,269.7 C460.81,270.66 462.88,273.25 463,274.2 C463.12,275.15 461.85,278.25 461.9,279.2 C461.95,280.15 463.5,282.8 463.5,283.7 C463.5,284.6 462.51,287.36 461.9,288.2 C461.29,289.04 457.91,291.42 457.4,292.1 C456.89,292.78 457.53,294.71 456.8,295 C456.07,295.29 450.89,295.68 450.1,295 C449.31,294.32 449.13,289.44 448.9,288.2 C448.67,286.96 448.19,283.67 447.8,282.6 C447.41,281.53 445.34,278.4 445,277.5 C444.66,276.6 444.34,274.27 444.4,273.6 C444.46,272.93 445.03,271.36 445.6,270.8 C446.17,270.24 449.21,268.62 450.1,268 C450.99,267.38 453.66,265.11 454.5,264.6 C455.34,264.09 457.76,262.9 458.5,262.9 Z" fill="#c8b8dc" fill-opacity="0.7"/>
<path d="M457.3,262.9 C457.54,263.06 457.75,264.23 458.02,264.27 C458.28,264.3 459.68,263.18 459.95,263.22 C460.21,263.25 460.75,264.31 460.7,264.6 C460.65,264.89 459.42,265.72 459.43,266.08 C459.44,266.43 460.78,267.81 460.78,268.17 C460.79,268.53 459.63,269.36 459.5,269.7 C459.37,270.04 459.23,271.34 459.46,271.59 C459.69,271.85 461.59,272 461.82,272.26 C462.05,272.52 461.93,273.86 461.8,274.2 C461.67,274.54 460.54,275.31 460.56,275.66 C460.57,276.01 461.94,277.34 461.95,277.69 C461.97,278.05 460.86,278.87 460.7,279.2 C460.54,279.53 460.19,280.72 460.38,280.99 C460.57,281.25 462.41,281.6 462.6,281.87 C462.8,282.14 462.47,283.4 462.3,283.7 C462.13,284 460.94,284.56 460.92,284.88 C460.9,285.21 462.11,286.64 462.09,286.97 C462.07,287.3 461.05,288.02 460.7,288.2 C460.35,288.38 458.86,288.48 458.63,288.81 C458.39,289.13 458.56,291.12 458.32,291.45 C458.08,291.78 456.52,291.96 456.2,292.1 C455.88,292.24 455.07,292.67 455.12,292.87 C455.17,293.08 456.64,293.98 456.69,294.2 C456.73,294.41 455.93,295.01 455.6,295 C455.27,294.99 453.83,294.01 453.39,294.1 C452.95,294.19 451.63,295.81 451.18,295.9 C450.73,295.99 449.08,295.33 448.9,295 C448.72,294.67 449.56,293.03 449.39,292.6 C449.22,292.17 447.39,291.11 447.22,290.67 C447.05,290.23 447.6,288.65 447.7,288.2 C447.8,287.75 448.38,286.53 448.22,286.18 C448.06,285.83 446.25,285.04 446.09,284.68 C445.93,284.32 446.56,283.02 446.6,282.6 C446.64,282.18 446.73,280.78 446.46,280.48 C446.2,280.19 444.23,279.97 443.96,279.67 C443.7,279.37 443.75,277.86 443.8,277.5 C443.85,277.14 444.62,276.32 444.49,276.08 C444.36,275.83 442.64,275.31 442.51,275.06 C442.39,274.82 443.01,273.8 443.2,273.6 C443.39,273.4 444.43,273.25 444.42,273.03 C444.42,272.81 443.17,271.62 443.16,271.4 C443.16,271.17 444.08,270.88 444.4,270.8 C444.72,270.72 446.11,270.9 446.36,270.64 C446.61,270.38 446.64,268.45 446.89,268.19 C447.15,267.92 448.5,268.06 448.9,268 C449.3,267.94 450.67,267.89 450.9,267.59 C451.14,267.29 451.01,265.34 451.25,265.04 C451.49,264.74 452.93,264.62 453.3,264.6 C453.67,264.58 454.74,265.06 454.97,264.87 C455.2,264.67 455.36,262.85 455.59,262.65 C455.82,262.45 457.06,262.74 457.3,262.9 Z" fill="#573a9c" fill-opacity="1"/>
<rect x="479.8" y="272.5" width="1.6" height="14.5" fill="#5656a6" fill-opacity="0.8"/>
<rect x="447.7" y="296" width="8.5" height="7" fill="#a4dac6" fill-opacity="0.9"/>
<path d="M448.5,297 L455.5,297 L455,301 L452,302.6 L449,301 Z" fill="#1f5c32"/>
<rect x="472" y="287.6" width="7.8" height="24.2" fill="#e2b2c2" fill-opacity="0.85"/>
<rect x="479.8" y="287.6" width="8.4" height="7.9" fill="#e6a6bc" fill-opacity="1"/>
<rect x="479.8" y="295.5" width="8.4" height="7.9" fill="#de6e8e" fill-opacity="1"/>
<rect x="479.8" y="303.4" width="8.4" height="8.4" fill="#e6a0b6" fill-opacity="1"/>
<path d="M476,300 L481,292 L484,310 L476,310 Z" fill="#a45a6a" fill-opacity="0.5"/>
<path d="M481,259.4 C480.72,256.65 480.33,256.7 479.5,255.9 C478.67,255.1 477.25,254.82 476,254.6 C474.75,254.38 473.67,254.47 472,254.6 C470.33,254.73 467.67,255.02 466,255.4 C464.33,255.78 463.5,256.32 462,256.9 C460.5,257.48 458.67,258.07 457,258.9 C455.33,259.73 453.67,260.73 452,261.9 C450.33,263.07 448.67,264.32 447,265.9 C445.33,267.48 443.42,269.48 442,271.4 C440.58,273.32 439.5,275.4 438.5,277.4 C437.5,279.4 436.58,281.4 436,283.4 C435.42,285.4 435.28,287.07 435,289.4 C434.72,291.73 434.3,294.73 434.3,297.4 C434.3,300.07 434.47,302.9 435,305.4 C435.53,307.9 436.67,310.4 437.5,312.4 C438.33,314.4 438.92,315.9 440,317.4 C441.08,318.9 442.33,320.15 444,321.4 C445.67,322.65 447.67,323.9 450,324.9 C452.33,325.9 455.17,326.78 458,327.4 C460.83,328.02 464.17,328.35 467,328.6 C469.83,328.85 473.08,328.88 475,328.9 C476.92,328.92 477.58,329.53 478.5,328.7 C479.42,327.87 480.05,325.62 480.5,323.9 C480.95,322.18 481.08,321.15 481.2,318.4 C481.32,315.65 481.2,312.57 481.2,307.4 C481.2,302.23 481.2,293.23 481.2,287.4 C481.2,281.57 481.23,277.07 481.2,272.4 C481.17,267.73 481.28,262.15 481,259.4 Z" fill="none" stroke="#6a6a6a" stroke-opacity="0.35" stroke-width="3"/>
<path d="M482,259.4 C482.28,256.48 482.67,255.85 483.5,254.9 C484.33,253.95 485.92,253.92 487,253.7 C488.08,253.48 488.5,253.48 490,253.6 C491.5,253.72 494,253.93 496,254.4 C498,254.87 500,255.57 502,256.4 C504,257.23 506.17,258.23 508,259.4 C509.83,260.57 511.33,261.9 513,263.4 C514.67,264.9 516.5,266.57 518,268.4 C519.5,270.23 520.92,272.4 522,274.4 C523.08,276.4 523.83,278.23 524.5,280.4 C525.17,282.57 525.55,285.4 526,287.4 C526.45,289.4 526.93,290.65 527.2,292.4 C527.47,294.15 527.52,296.13 527.6,297.9 C527.68,299.67 527.63,301.33 527.7,303 C527.77,304.67 528.02,306.25 528,307.9 C527.98,309.55 527.93,311.4 527.6,312.9 C527.27,314.4 526.82,315.68 526,316.9 C525.18,318.12 524.07,319.1 522.7,320.2 C521.33,321.3 519.58,322.53 517.8,323.5 C516.02,324.47 513.9,325.32 512,326 C510.1,326.68 508.43,327.13 506.4,327.6 C504.37,328.07 501.98,328.53 499.8,328.8 C497.62,329.07 495.27,329.17 493.3,329.2 C491.33,329.23 489.47,329.12 488,329 C486.53,328.88 485.42,329.35 484.5,328.5 C483.58,327.65 482.95,325.58 482.5,323.9 C482.05,322.22 481.92,321.15 481.8,318.4 C481.68,315.65 481.8,312.57 481.8,307.4 C481.8,302.23 481.8,293.23 481.8,287.4 C481.8,281.57 481.77,277.07 481.8,272.4 C481.83,267.73 481.72,262.32 482,259.4 Z" fill="none" stroke="#6a6a6a" stroke-opacity="0.35" stroke-width="3"/>
</g>
<path d="M481,259.4 C480.72,256.65 480.33,256.7 479.5,255.9 C478.67,255.1 477.25,254.82 476,254.6 C474.75,254.38 473.67,254.47 472,254.6 C470.33,254.73 467.67,255.02 466,255.4 C464.33,255.78 463.5,256.32 462,256.9 C460.5,257.48 458.67,258.07 457,258.9 C455.33,259.73 453.67,260.73 452,261.9 C450.33,263.07 448.67,264.32 447,265.9 C445.33,267.48 443.42,269.48 442,271.4 C440.58,273.32 439.5,275.4 438.5,277.4 C437.5,279.4 436.58,281.4 436,283.4 C435.42,285.4 435.28,287.07 435,289.4 C434.72,291.73 434.3,294.73 434.3,297.4 C434.3,300.07 434.47,302.9 435,305.4 C435.53,307.9 436.67,310.4 437.5,312.4 C438.33,314.4 438.92,315.9 440,317.4 C441.08,318.9 442.33,320.15 444,321.4 C445.67,322.65 447.67,323.9 450,324.9 C452.33,325.9 455.17,326.78 458,327.4 C460.83,328.02 464.17,328.35 467,328.6 C469.83,328.85 473.08,328.88 475,328.9 C476.92,328.92 477.58,329.53 478.5,328.7 C479.42,327.87 480.05,325.62 480.5,323.9 C480.95,322.18 481.08,321.15 481.2,318.4 C481.32,315.65 481.2,312.57 481.2,307.4 C481.2,302.23 481.2,293.23 481.2,287.4 C481.2,281.57 481.23,277.07 481.2,272.4 C481.17,267.73 481.28,262.15 481,259.4 Z" fill="none" stroke="#5a5a5a" stroke-width="0.9"/>
<path d="M482,259.4 C482.28,256.48 482.67,255.85 483.5,254.9 C484.33,253.95 485.92,253.92 487,253.7 C488.08,253.48 488.5,253.48 490,253.6 C491.5,253.72 494,253.93 496,254.4 C498,254.87 500,255.57 502,256.4 C504,257.23 506.17,258.23 508,259.4 C509.83,260.57 511.33,261.9 513,263.4 C514.67,264.9 516.5,266.57 518,268.4 C519.5,270.23 520.92,272.4 522,274.4 C523.08,276.4 523.83,278.23 524.5,280.4 C525.17,282.57 525.55,285.4 526,287.4 C526.45,289.4 526.93,290.65 527.2,292.4 C527.47,294.15 527.52,296.13 527.6,297.9 C527.68,299.67 527.63,301.33 527.7,303 C527.77,304.67 528.02,306.25 528,307.9 C527.98,309.55 527.93,311.4 527.6,312.9 C527.27,314.4 526.82,315.68 526,316.9 C525.18,318.12 524.07,319.1 522.7,320.2 C521.33,321.3 519.58,322.53 517.8,323.5 C516.02,324.47 513.9,325.32 512,326 C510.1,326.68 508.43,327.13 506.4,327.6 C504.37,328.07 501.98,328.53 499.8,328.8 C497.62,329.07 495.27,329.17 493.3,329.2 C491.33,329.23 489.47,329.12 488,329 C486.53,328.88 485.42,329.35 484.5,328.5 C483.58,327.65 482.95,325.58 482.5,323.9 C482.05,322.22 481.92,321.15 481.8,318.4 C481.68,315.65 481.8,312.57 481.8,307.4 C481.8,302.23 481.8,293.23 481.8,287.4 C481.8,281.57 481.77,277.07 481.8,272.4 C481.83,267.73 481.72,262.32 482,259.4 Z" fill="none" stroke="#5a5a5a" stroke-width="0.9"/>
<path d="M481.5,257.6 V321.9" stroke="#555" stroke-width="1.3"/>
<clipPath id="bc4"><path d="M152.5,483 C152.17,479.63 151.92,480.43 151,479.8 C150.08,479.17 148.5,479.2 147,479.2 C145.5,479.2 143.67,479.47 142,479.8 C140.33,480.13 138.67,480.58 137,481.2 C135.33,481.82 133.67,482.62 132,483.5 C130.33,484.38 128.58,485.33 127,486.5 C125.42,487.67 123.92,489 122.5,490.5 C121.08,492 119.67,493.75 118.5,495.5 C117.33,497.25 116.33,499.08 115.5,501 C114.67,502.92 114.05,504.83 113.5,507 C112.95,509.17 112.52,511.5 112.2,514 C111.88,516.5 111.7,519.67 111.6,522 C111.5,524.33 111.37,526 111.6,528 C111.83,530 112.27,532.08 113,534 C113.73,535.92 114.83,537.83 116,539.5 C117.17,541.17 118.5,542.67 120,544 C121.5,545.33 123.17,546.42 125,547.5 C126.83,548.58 128.83,549.62 131,550.5 C133.17,551.38 135.67,552.22 138,552.8 C140.33,553.38 142.83,553.83 145,554 C147.17,554.17 149.57,554.22 151,553.8 C152.43,553.38 153.13,553.8 153.6,551.5 C154.07,549.2 153.82,545.25 153.8,540 C153.78,534.75 153.63,526.67 153.5,520 C153.37,513.33 153.17,506.17 153,500 C152.83,493.83 152.83,486.37 152.5,483 Z"/><path d="M154.2,483 C154.53,479.5 155.03,479.7 156,479 C156.97,478.3 158.5,478.72 160,478.8 C161.5,478.88 163.33,479.13 165,479.5 C166.67,479.87 168.33,480.42 170,481 C171.67,481.58 173.33,482.17 175,483 C176.67,483.83 178.33,484.75 180,486 C181.67,487.25 183.5,488.83 185,490.5 C186.5,492.17 187.83,494.08 189,496 C190.17,497.92 191.17,500 192,502 C192.83,504 193.42,505.83 194,508 C194.58,510.17 195.12,512.67 195.5,515 C195.88,517.33 196.08,520 196.3,522 C196.52,524 196.85,525 196.8,527 C196.75,529 196.63,531.83 196,534 C195.37,536.17 194.33,538.33 193,540 C191.67,541.67 189.83,542.67 188,544 C186.17,545.33 184.17,546.67 182,548 C179.83,549.33 177.5,550.92 175,552 C172.5,553.08 169.5,554.08 167,554.5 C164.5,554.92 161.83,554.75 160,554.5 C158.17,554.25 156.9,553.75 156,553 C155.1,552.25 154.85,552.17 154.6,550 C154.35,547.83 154.57,545 154.5,540 C154.43,535 154.28,526.67 154.2,520 C154.12,513.33 154,506.17 154,500 C154,493.83 153.87,486.5 154.2,483 Z"/></clipPath>
<path d="M152.5,483 C152.17,479.63 151.92,480.43 151,479.8 C150.08,479.17 148.5,479.2 147,479.2 C145.5,479.2 143.67,479.47 142,479.8 C140.33,480.13 138.67,480.58 137,481.2 C135.33,481.82 133.67,482.62 132,483.5 C130.33,484.38 128.58,485.33 127,486.5 C125.42,487.67 123.92,489 122.5,490.5 C121.08,492 119.67,493.75 118.5,495.5 C117.33,497.25 116.33,499.08 115.5,501 C114.67,502.92 114.05,504.83 113.5,507 C112.95,509.17 112.52,511.5 112.2,514 C111.88,516.5 111.7,519.67 111.6,522 C111.5,524.33 111.37,526 111.6,528 C111.83,530 112.27,532.08 113,534 C113.73,535.92 114.83,537.83 116,539.5 C117.17,541.17 118.5,542.67 120,544 C121.5,545.33 123.17,546.42 125,547.5 C126.83,548.58 128.83,549.62 131,550.5 C133.17,551.38 135.67,552.22 138,552.8 C140.33,553.38 142.83,553.83 145,554 C147.17,554.17 149.57,554.22 151,553.8 C152.43,553.38 153.13,553.8 153.6,551.5 C154.07,549.2 153.82,545.25 153.8,540 C153.78,534.75 153.63,526.67 153.5,520 C153.37,513.33 153.17,506.17 153,500 C152.83,493.83 152.83,486.37 152.5,483 Z" fill="url(#bgrad)"/>
<path d="M154.2,483 C154.53,479.5 155.03,479.7 156,479 C156.97,478.3 158.5,478.72 160,478.8 C161.5,478.88 163.33,479.13 165,479.5 C166.67,479.87 168.33,480.42 170,481 C171.67,481.58 173.33,482.17 175,483 C176.67,483.83 178.33,484.75 180,486 C181.67,487.25 183.5,488.83 185,490.5 C186.5,492.17 187.83,494.08 189,496 C190.17,497.92 191.17,500 192,502 C192.83,504 193.42,505.83 194,508 C194.58,510.17 195.12,512.67 195.5,515 C195.88,517.33 196.08,520 196.3,522 C196.52,524 196.85,525 196.8,527 C196.75,529 196.63,531.83 196,534 C195.37,536.17 194.33,538.33 193,540 C191.67,541.67 189.83,542.67 188,544 C186.17,545.33 184.17,546.67 182,548 C179.83,549.33 177.5,550.92 175,552 C172.5,553.08 169.5,554.08 167,554.5 C164.5,554.92 161.83,554.75 160,554.5 C158.17,554.25 156.9,553.75 156,553 C155.1,552.25 154.85,552.17 154.6,550 C154.35,547.83 154.57,545 154.5,540 C154.43,535 154.28,526.67 154.2,520 C154.12,513.33 154,506.17 154,500 C154,493.83 153.87,486.5 154.2,483 Z" fill="url(#bgrad)"/>
<g clip-path="url(#bc4)">
<rect x="111.6" y="478.8" width="85.2" height="75.7" filter="url(#hil)" opacity="0.6"/>
<rect x="111.6" y="478.8" width="85.2" height="75.7" filter="url(#sul)" opacity="0.5"/>
<rect x="160" y="488" width="16.5" height="7.5" fill="#b4c8bc" fill-opacity="0.45"/>
<rect x="152" y="504" width="8" height="8" fill="#b4c8bc" fill-opacity="0.45"/>
<rect x="176.5" y="504" width="8.0" height="16" fill="#b4c8bc" fill-opacity="0.45"/>
<path d="M158,506 L160,500 L157,507 L160,513 Z M176.4,507 L179,510 L177,515 Z" fill="#444" fill-opacity="0.6"/>
<path d="M159,493 L170,492 L174,494.5 L160,495.9 Z" fill="#333" fill-opacity="0.5"/>
<path d="M160.5,495.6 C160.85,495.49 162.61,496.37 163.14,496.3 C163.67,496.23 165.24,494.97 165.78,494.9 C166.32,494.83 168.24,495.39 168.5,495.6 C168.76,495.81 168.19,496.81 168.35,497 C168.52,497.2 169.97,497.36 170.13,497.56 C170.29,497.76 169.88,498.7 170,499 C170.12,499.3 170.92,500.45 171.29,500.59 C171.66,500.73 173.29,500.24 173.66,500.38 C174.03,500.52 174.88,501.68 175,502 C175.12,502.32 174.71,503.34 174.88,503.58 C175.05,503.82 176.53,504.14 176.71,504.38 C176.88,504.62 176.7,505.61 176.6,506 C176.5,506.39 175.67,507.78 175.7,508.25 C175.73,508.72 176.87,510.2 176.9,510.68 C176.93,511.15 176.22,512.59 176,513 C175.78,513.41 174.74,514.34 174.68,514.76 C174.61,515.18 175.41,516.76 175.34,517.18 C175.28,517.61 174.35,518.84 174,519 C173.65,519.16 172.23,518.65 171.85,518.82 C171.47,518.98 170.59,520.5 170.21,520.67 C169.82,520.84 168.45,520.59 168,520.5 C167.55,520.41 166.17,519.68 165.71,519.73 C165.25,519.79 163.83,521.01 163.36,521.07 C162.89,521.12 161.23,520.67 161,520.3 C160.77,519.93 161.28,517.95 161.09,517.41 C160.9,516.88 159.32,515.51 159.13,514.97 C158.94,514.43 159.15,512.5 159.2,512 C159.25,511.5 159.78,510.33 159.66,509.94 C159.55,509.55 158.16,508.52 158.04,508.12 C157.93,507.73 158.34,506.36 158.5,506 C158.66,505.64 159.63,504.9 159.67,504.55 C159.7,504.2 158.79,502.85 158.82,502.5 C158.85,502.14 159.8,501.32 160,501 C160.2,500.68 160.9,499.65 160.86,499.28 C160.83,498.92 159.67,497.74 159.63,497.37 C159.6,497 160.15,495.71 160.5,495.6 Z" fill="#155f40" fill-opacity="1"/>
<rect x="168.5" y="495.9" width="6.5" height="6.7" fill="#3c8a6a" fill-opacity="0.8"/>
<path d="M152.5,483 C152.17,479.63 151.92,480.43 151,479.8 C150.08,479.17 148.5,479.2 147,479.2 C145.5,479.2 143.67,479.47 142,479.8 C140.33,480.13 138.67,480.58 137,481.2 C135.33,481.82 133.67,482.62 132,483.5 C130.33,484.38 128.58,485.33 127,486.5 C125.42,487.67 123.92,489 122.5,490.5 C121.08,492 119.67,493.75 118.5,495.5 C117.33,497.25 116.33,499.08 115.5,501 C114.67,502.92 114.05,504.83 113.5,507 C112.95,509.17 112.52,511.5 112.2,514 C111.88,516.5 111.7,519.67 111.6,522 C111.5,524.33 111.37,526 111.6,528 C111.83,530 112.27,532.08 113,534 C113.73,535.92 114.83,537.83 116,539.5 C117.17,541.17 118.5,542.67 120,544 C121.5,545.33 123.17,546.42 125,547.5 C126.83,548.58 128.83,549.62 131,550.5 C133.17,551.38 135.67,552.22 138,552.8 C140.33,553.38 142.83,553.83 145,554 C147.17,554.17 149.57,554.22 151,553.8 C152.43,553.38 153.13,553.8 153.6,551.5 C154.07,549.2 153.82,545.25 153.8,540 C153.78,534.75 153.63,526.67 153.5,520 C153.37,513.33 153.17,506.17 153,500 C152.83,493.83 152.83,486.37 152.5,483 Z" fill="none" stroke="#6a6a6a" stroke-opacity="0.35" stroke-width="3"/>
<path d="M154.2,483 C154.53,479.5 155.03,479.7 156,479 C156.97,478.3 158.5,478.72 160,478.8 C161.5,478.88 163.33,479.13 165,479.5 C166.67,479.87 168.33,480.42 170,481 C171.67,481.58 173.33,482.17 175,483 C176.67,483.83 178.33,484.75 180,486 C181.67,487.25 183.5,488.83 185,490.5 C186.5,492.17 187.83,494.08 189,496 C190.17,497.92 191.17,500 192,502 C192.83,504 193.42,505.83 194,508 C194.58,510.17 195.12,512.67 195.5,515 C195.88,517.33 196.08,520 196.3,522 C196.52,524 196.85,525 196.8,527 C196.75,529 196.63,531.83 196,534 C195.37,536.17 194.33,538.33 193,540 C191.67,541.67 189.83,542.67 188,544 C186.17,545.33 184.17,546.67 182,548 C179.83,549.33 177.5,550.92 175,552 C172.5,553.08 169.5,554.08 167,554.5 C164.5,554.92 161.83,554.75 160,554.5 C158.17,554.25 156.9,553.75 156,553 C155.1,552.25 154.85,552.17 154.6,550 C154.35,547.83 154.57,545 154.5,540 C154.43,535 154.28,526.67 154.2,520 C154.12,513.33 154,506.17 154,500 C154,493.83 153.87,486.5 154.2,483 Z" fill="none" stroke="#6a6a6a" stroke-opacity="0.35" stroke-width="3"/>
</g>
<path d="M152.5,483 C152.17,479.63 151.92,480.43 151,479.8 C150.08,479.17 148.5,479.2 147,479.2 C145.5,479.2 143.67,479.47 142,479.8 C140.33,480.13 138.67,480.58 137,481.2 C135.33,481.82 133.67,482.62 132,483.5 C130.33,484.38 128.58,485.33 127,486.5 C125.42,487.67 123.92,489 122.5,490.5 C121.08,492 119.67,493.75 118.5,495.5 C117.33,497.25 116.33,499.08 115.5,501 C114.67,502.92 114.05,504.83 113.5,507 C112.95,509.17 112.52,511.5 112.2,514 C111.88,516.5 111.7,519.67 111.6,522 C111.5,524.33 111.37,526 111.6,528 C111.83,530 112.27,532.08 113,534 C113.73,535.92 114.83,537.83 116,539.5 C117.17,541.17 118.5,542.67 120,544 C121.5,545.33 123.17,546.42 125,547.5 C126.83,548.58 128.83,549.62 131,550.5 C133.17,551.38 135.67,552.22 138,552.8 C140.33,553.38 142.83,553.83 145,554 C147.17,554.17 149.57,554.22 151,553.8 C152.43,553.38 153.13,553.8 153.6,551.5 C154.07,549.2 153.82,545.25 153.8,540 C153.78,534.75 153.63,526.67 153.5,520 C153.37,513.33 153.17,506.17 153,500 C152.83,493.83 152.83,486.37 152.5,483 Z" fill="none" stroke="#5a5a5a" stroke-width="0.9"/>
<path d="M154.2,483 C154.53,479.5 155.03,479.7 156,479 C156.97,478.3 158.5,478.72 160,478.8 C161.5,478.88 163.33,479.13 165,479.5 C166.67,479.87 168.33,480.42 170,481 C171.67,481.58 173.33,482.17 175,483 C176.67,483.83 178.33,484.75 180,486 C181.67,487.25 183.5,488.83 185,490.5 C186.5,492.17 187.83,494.08 189,496 C190.17,497.92 191.17,500 192,502 C192.83,504 193.42,505.83 194,508 C194.58,510.17 195.12,512.67 195.5,515 C195.88,517.33 196.08,520 196.3,522 C196.52,524 196.85,525 196.8,527 C196.75,529 196.63,531.83 196,534 C195.37,536.17 194.33,538.33 193,540 C191.67,541.67 189.83,542.67 188,544 C186.17,545.33 184.17,546.67 182,548 C179.83,549.33 177.5,550.92 175,552 C172.5,553.08 169.5,554.08 167,554.5 C164.5,554.92 161.83,554.75 160,554.5 C158.17,554.25 156.9,553.75 156,553 C155.1,552.25 154.85,552.17 154.6,550 C154.35,547.83 154.57,545 154.5,540 C154.43,535 154.28,526.67 154.2,520 C154.12,513.33 154,506.17 154,500 C154,493.83 153.87,486.5 154.2,483 Z" fill="none" stroke="#5a5a5a" stroke-width="0.9"/>
<path d="M154,482.2 V547" stroke="#555" stroke-width="1.3"/>
<clipPath id="bc5"><path d="M377.3,491 C377.13,487.33 376.88,488.58 376.5,488 C376.12,487.42 375.75,487.58 375,487.5 C374.25,487.42 373,487.25 372,487.5 C371,487.75 369.75,488.92 369,489 C368.25,489.08 367.83,488.5 367.5,488 C367.17,487.5 367.58,486.5 367,486 C366.42,485.5 365.33,485.2 364,485 C362.67,484.8 360.67,484.77 359,484.8 C357.33,484.83 355.5,484.92 354,485.2 C352.5,485.48 351.33,485.78 350,486.5 C348.67,487.22 347.25,488.25 346,489.5 C344.75,490.75 343.58,492.25 342.5,494 C341.42,495.75 340.33,497.83 339.5,500 C338.67,502.17 337.95,504.5 337.5,507 C337.05,509.5 336.97,512.33 336.8,515 C336.63,517.67 336.52,520.5 336.5,523 C336.48,525.5 336.48,528 336.7,530 C336.92,532 337.25,533.33 337.8,535 C338.35,536.67 338.97,538.17 340,540 C341.03,541.83 342.5,544.17 344,546 C345.5,547.83 347.17,549.5 349,551 C350.83,552.5 352.83,553.83 355,555 C357.17,556.17 359.67,557.08 362,558 C364.33,558.92 366.83,560.17 369,560.5 C371.17,560.83 373.67,560.58 375,560 C376.33,559.42 376.6,559 377,557 C377.4,555 377.32,552.5 377.4,548 C377.48,543.5 377.48,536.33 377.5,530 C377.52,523.67 377.53,516.5 377.5,510 C377.47,503.5 377.47,494.67 377.3,491 Z"/><path d="M378.3,491 C378.53,487.33 378.72,488.58 379.5,488 C380.28,487.42 381.75,487.42 383,487.5 C384.25,487.58 386,488.17 387,488.5 C388,488.83 388.58,489.75 389,489.5 C389.42,489.25 389,487.58 389.5,487 C390,486.42 390.75,486.25 392,486 C393.25,485.75 395.33,485.53 397,485.5 C398.67,485.47 400.33,485.55 402,485.8 C403.67,486.05 405.5,486.38 407,487 C408.5,487.62 409.83,488.42 411,489.5 C412.17,490.58 413.08,491.92 414,493.5 C414.92,495.08 415.83,496.92 416.5,499 C417.17,501.08 417.62,503.5 418,506 C418.38,508.5 418.63,511.33 418.8,514 C418.97,516.67 418.97,519.67 419,522 C419.03,524.33 419.17,526.17 419,528 C418.83,529.83 418.5,531 418,533 C417.5,535 417,537.67 416,540 C415,542.33 413.67,545 412,547 C410.33,549 408.17,550.5 406,552 C403.83,553.5 401.33,554.83 399,556 C396.67,557.17 394.33,558.17 392,559 C389.67,559.83 387,560.83 385,561 C383,561.17 381.08,560.67 380,560 C378.92,559.33 378.8,559 378.5,557 C378.2,555 378.27,552.5 378.2,548 C378.13,543.5 378.12,536.33 378.1,530 C378.08,523.67 378.07,516.5 378.1,510 C378.13,503.5 378.07,494.67 378.3,491 Z"/></clipPath>
<path d="M377.3,491 C377.13,487.33 376.88,488.58 376.5,488 C376.12,487.42 375.75,487.58 375,487.5 C374.25,487.42 373,487.25 372,487.5 C371,487.75 369.75,488.92 369,489 C368.25,489.08 367.83,488.5 367.5,488 C367.17,487.5 367.58,486.5 367,486 C366.42,485.5 365.33,485.2 364,485 C362.67,484.8 360.67,484.77 359,484.8 C357.33,484.83 355.5,484.92 354,485.2 C352.5,485.48 351.33,485.78 350,486.5 C348.67,487.22 347.25,488.25 346,489.5 C344.75,490.75 343.58,492.25 342.5,494 C341.42,495.75 340.33,497.83 339.5,500 C338.67,502.17 337.95,504.5 337.5,507 C337.05,509.5 336.97,512.33 336.8,515 C336.63,517.67 336.52,520.5 336.5,523 C336.48,525.5 336.48,528 336.7,530 C336.92,532 337.25,533.33 337.8,535 C338.35,536.67 338.97,538.17 340,540 C341.03,541.83 342.5,544.17 344,546 C345.5,547.83 347.17,549.5 349,551 C350.83,552.5 352.83,553.83 355,555 C357.17,556.17 359.67,557.08 362,558 C364.33,558.92 366.83,560.17 369,560.5 C371.17,560.83 373.67,560.58 375,560 C376.33,559.42 376.6,559 377,557 C377.4,555 377.32,552.5 377.4,548 C377.48,543.5 377.48,536.33 377.5,530 C377.52,523.67 377.53,516.5 377.5,510 C377.47,503.5 377.47,494.67 377.3,491 Z" fill="url(#bgrad)"/>
<path d="M378.3,491 C378.53,487.33 378.72,488.58 379.5,488 C380.28,487.42 381.75,487.42 383,487.5 C384.25,487.58 386,488.17 387,488.5 C388,488.83 388.58,489.75 389,489.5 C389.42,489.25 389,487.58 389.5,487 C390,486.42 390.75,486.25 392,486 C393.25,485.75 395.33,485.53 397,485.5 C398.67,485.47 400.33,485.55 402,485.8 C403.67,486.05 405.5,486.38 407,487 C408.5,487.62 409.83,488.42 411,489.5 C412.17,490.58 413.08,491.92 414,493.5 C414.92,495.08 415.83,496.92 416.5,499 C417.17,501.08 417.62,503.5 418,506 C418.38,508.5 418.63,511.33 418.8,514 C418.97,516.67 418.97,519.67 419,522 C419.03,524.33 419.17,526.17 419,528 C418.83,529.83 418.5,531 418,533 C417.5,535 417,537.67 416,540 C415,542.33 413.67,545 412,547 C410.33,549 408.17,550.5 406,552 C403.83,553.5 401.33,554.83 399,556 C396.67,557.17 394.33,558.17 392,559 C389.67,559.83 387,560.83 385,561 C383,561.17 381.08,560.67 380,560 C378.92,559.33 378.8,559 378.5,557 C378.2,555 378.27,552.5 378.2,548 C378.13,543.5 378.12,536.33 378.1,530 C378.08,523.67 378.07,516.5 378.1,510 C378.13,503.5 378.07,494.67 378.3,491 Z" fill="url(#bgrad)"/>
<g clip-path="url(#bc5)">
<rect x="336.5" y="484.8" width="82.5" height="76.2" filter="url(#hil)" opacity="0.6"/>
<rect x="336.5" y="484.8" width="82.5" height="76.2" filter="url(#sul)" opacity="0.5"/>
<rect x="392" y="496" width="16" height="8" fill="#a2bcaa" fill-opacity="0.85"/>
<path d="M395.5,504 L396.5,498 L399.5,496 L402.5,497.5 L403,504 Z" fill="#bfe08e"/>
<rect x="392" y="504" width="16" height="12.5" fill="#98d67e" fill-opacity="1"/>
<rect x="392" y="516.5" width="16" height="3.0" fill="#78b48c" fill-opacity="0.85"/>
<path d="M377.3,491 C377.13,487.33 376.88,488.58 376.5,488 C376.12,487.42 375.75,487.58 375,487.5 C374.25,487.42 373,487.25 372,487.5 C371,487.75 369.75,488.92 369,489 C368.25,489.08 367.83,488.5 367.5,488 C367.17,487.5 367.58,486.5 367,486 C366.42,485.5 365.33,485.2 364,485 C362.67,484.8 360.67,484.77 359,484.8 C357.33,484.83 355.5,484.92 354,485.2 C352.5,485.48 351.33,485.78 350,486.5 C348.67,487.22 347.25,488.25 346,489.5 C344.75,490.75 343.58,492.25 342.5,494 C341.42,495.75 340.33,497.83 339.5,500 C338.67,502.17 337.95,504.5 337.5,507 C337.05,509.5 336.97,512.33 336.8,515 C336.63,517.67 336.52,520.5 336.5,523 C336.48,525.5 336.48,528 336.7,530 C336.92,532 337.25,533.33 337.8,535 C338.35,536.67 338.97,538.17 340,540 C341.03,541.83 342.5,544.17 344,546 C345.5,547.83 347.17,549.5 349,551 C350.83,552.5 352.83,553.83 355,555 C357.17,556.17 359.67,557.08 362,558 C364.33,558.92 366.83,560.17 369,560.5 C371.17,560.83 373.67,560.58 375,560 C376.33,559.42 376.6,559 377,557 C377.4,555 377.32,552.5 377.4,548 C377.48,543.5 377.48,536.33 377.5,530 C377.52,523.67 377.53,516.5 377.5,510 C377.47,503.5 377.47,494.67 377.3,491 Z" fill="none" stroke="#6a6a6a" stroke-opacity="0.35" stroke-width="3"/>
<path d="M378.3,491 C378.53,487.33 378.72,488.58 379.5,488 C380.28,487.42 381.75,487.42 383,487.5 C384.25,487.58 386,488.17 387,488.5 C388,488.83 388.58,489.75 389,489.5 C389.42,489.25 389,487.58 389.5,487 C390,486.42 390.75,486.25 392,486 C393.25,485.75 395.33,485.53 397,485.5 C398.67,485.47 400.33,485.55 402,485.8 C403.67,486.05 405.5,486.38 407,487 C408.5,487.62 409.83,488.42 411,489.5 C412.17,490.58 413.08,491.92 414,493.5 C414.92,495.08 415.83,496.92 416.5,499 C417.17,501.08 417.62,503.5 418,506 C418.38,508.5 418.63,511.33 418.8,514 C418.97,516.67 418.97,519.67 419,522 C419.03,524.33 419.17,526.17 419,528 C418.83,529.83 418.5,531 418,533 C417.5,535 417,537.67 416,540 C415,542.33 413.67,545 412,547 C410.33,549 408.17,550.5 406,552 C403.83,553.5 401.33,554.83 399,556 C396.67,557.17 394.33,558.17 392,559 C389.67,559.83 387,560.83 385,561 C383,561.17 381.08,560.67 380,560 C378.92,559.33 378.8,559 378.5,557 C378.2,555 378.27,552.5 378.2,548 C378.13,543.5 378.12,536.33 378.1,530 C378.08,523.67 378.07,516.5 378.1,510 C378.13,503.5 378.07,494.67 378.3,491 Z" fill="none" stroke="#6a6a6a" stroke-opacity="0.35" stroke-width="3"/>
</g>
<path d="M377.3,491 C377.13,487.33 376.88,488.58 376.5,488 C376.12,487.42 375.75,487.58 375,487.5 C374.25,487.42 373,487.25 372,487.5 C371,487.75 369.75,488.92 369,489 C368.25,489.08 367.83,488.5 367.5,488 C367.17,487.5 367.58,486.5 367,486 C366.42,485.5 365.33,485.2 364,485 C362.67,484.8 360.67,484.77 359,484.8 C357.33,484.83 355.5,484.92 354,485.2 C352.5,485.48 351.33,485.78 350,486.5 C348.67,487.22 347.25,488.25 346,489.5 C344.75,490.75 343.58,492.25 342.5,494 C341.42,495.75 340.33,497.83 339.5,500 C338.67,502.17 337.95,504.5 337.5,507 C337.05,509.5 336.97,512.33 336.8,515 C336.63,517.67 336.52,520.5 336.5,523 C336.48,525.5 336.48,528 336.7,530 C336.92,532 337.25,533.33 337.8,535 C338.35,536.67 338.97,538.17 340,540 C341.03,541.83 342.5,544.17 344,546 C345.5,547.83 347.17,549.5 349,551 C350.83,552.5 352.83,553.83 355,555 C357.17,556.17 359.67,557.08 362,558 C364.33,558.92 366.83,560.17 369,560.5 C371.17,560.83 373.67,560.58 375,560 C376.33,559.42 376.6,559 377,557 C377.4,555 377.32,552.5 377.4,548 C377.48,543.5 377.48,536.33 377.5,530 C377.52,523.67 377.53,516.5 377.5,510 C377.47,503.5 377.47,494.67 377.3,491 Z" fill="none" stroke="#5a5a5a" stroke-width="0.9"/>
<path d="M378.3,491 C378.53,487.33 378.72,488.58 379.5,488 C380.28,487.42 381.75,487.42 383,487.5 C384.25,487.58 386,488.17 387,488.5 C388,488.83 388.58,489.75 389,489.5 C389.42,489.25 389,487.58 389.5,487 C390,486.42 390.75,486.25 392,486 C393.25,485.75 395.33,485.53 397,485.5 C398.67,485.47 400.33,485.55 402,485.8 C403.67,486.05 405.5,486.38 407,487 C408.5,487.62 409.83,488.42 411,489.5 C412.17,490.58 413.08,491.92 414,493.5 C414.92,495.08 415.83,496.92 416.5,499 C417.17,501.08 417.62,503.5 418,506 C418.38,508.5 418.63,511.33 418.8,514 C418.97,516.67 418.97,519.67 419,522 C419.03,524.33 419.17,526.17 419,528 C418.83,529.83 418.5,531 418,533 C417.5,535 417,537.67 416,540 C415,542.33 413.67,545 412,547 C410.33,549 408.17,550.5 406,552 C403.83,553.5 401.33,554.83 399,556 C396.67,557.17 394.33,558.17 392,559 C389.67,559.83 387,560.83 385,561 C383,561.17 381.08,560.67 380,560 C378.92,559.33 378.8,559 378.5,557 C378.2,555 378.27,552.5 378.2,548 C378.13,543.5 378.12,536.33 378.1,530 C378.08,523.67 378.07,516.5 378.1,510 C378.13,503.5 378.07,494.67 378.3,491 Z" fill="none" stroke="#5a5a5a" stroke-width="0.9"/>
<path d="M377.8,488.5 V553.5" stroke="#555" stroke-width="1.3"/>
<clipPath id="bc6"><path d="M484.3,482.3 C484.02,479.55 483.63,479.6 482.8,478.8 C481.97,478 480.55,477.72 479.3,477.5 C478.05,477.28 476.97,477.37 475.3,477.5 C473.63,477.63 470.97,477.92 469.3,478.3 C467.63,478.68 466.8,479.22 465.3,479.8 C463.8,480.38 461.97,480.97 460.3,481.8 C458.63,482.63 456.97,483.63 455.3,484.8 C453.63,485.97 451.97,487.22 450.3,488.8 C448.63,490.38 446.72,492.38 445.3,494.3 C443.88,496.22 442.8,498.3 441.8,500.3 C440.8,502.3 439.88,504.3 439.3,506.3 C438.72,508.3 438.58,509.97 438.3,512.3 C438.02,514.63 437.6,517.63 437.6,520.3 C437.6,522.97 437.77,525.8 438.3,528.3 C438.83,530.8 439.97,533.3 440.8,535.3 C441.63,537.3 442.22,538.8 443.3,540.3 C444.38,541.8 445.63,543.05 447.3,544.3 C448.97,545.55 450.97,546.8 453.3,547.8 C455.63,548.8 458.47,549.68 461.3,550.3 C464.13,550.92 467.47,551.25 470.3,551.5 C473.13,551.75 476.38,551.78 478.3,551.8 C480.22,551.82 480.88,552.43 481.8,551.6 C482.72,550.77 483.35,548.52 483.8,546.8 C484.25,545.08 484.38,544.05 484.5,541.3 C484.62,538.55 484.5,535.47 484.5,530.3 C484.5,525.13 484.5,516.13 484.5,510.3 C484.5,504.47 484.53,499.97 484.5,495.3 C484.47,490.63 484.58,485.05 484.3,482.3 Z"/><path d="M485.3,482.3 C485.58,479.38 485.97,478.75 486.8,477.8 C487.63,476.85 489.22,476.82 490.3,476.6 C491.38,476.38 491.8,476.38 493.3,476.5 C494.8,476.62 497.3,476.83 499.3,477.3 C501.3,477.77 503.3,478.47 505.3,479.3 C507.3,480.13 509.47,481.13 511.3,482.3 C513.13,483.47 514.63,484.8 516.3,486.3 C517.97,487.8 519.8,489.47 521.3,491.3 C522.8,493.13 524.22,495.3 525.3,497.3 C526.38,499.3 527.13,501.13 527.8,503.3 C528.47,505.47 528.85,508.3 529.3,510.3 C529.75,512.3 530.23,513.55 530.5,515.3 C530.77,517.05 530.82,519.03 530.9,520.8 C530.98,522.57 530.93,524.23 531,525.9 C531.07,527.57 531.32,529.15 531.3,530.8 C531.28,532.45 531.23,534.3 530.9,535.8 C530.57,537.3 530.12,538.58 529.3,539.8 C528.48,541.02 527.37,542 526,543.1 C524.63,544.2 522.88,545.43 521.1,546.4 C519.32,547.37 517.2,548.22 515.3,548.9 C513.4,549.58 511.73,550.03 509.7,550.5 C507.67,550.97 505.28,551.43 503.1,551.7 C500.92,551.97 498.57,552.07 496.6,552.1 C494.63,552.13 492.77,552.02 491.3,551.9 C489.83,551.78 488.72,552.25 487.8,551.4 C486.88,550.55 486.25,548.48 485.8,546.8 C485.35,545.12 485.22,544.05 485.1,541.3 C484.98,538.55 485.1,535.47 485.1,530.3 C485.1,525.13 485.1,516.13 485.1,510.3 C485.1,504.47 485.07,499.97 485.1,495.3 C485.13,490.63 485.02,485.22 485.3,482.3 Z"/></clipPath>
<path d="M484.3,482.3 C484.02,479.55 483.63,479.6 482.8,478.8 C481.97,478 480.55,477.72 479.3,477.5 C478.05,477.28 476.97,477.37 475.3,477.5 C473.63,477.63 470.97,477.92 469.3,478.3 C467.63,478.68 466.8,479.22 465.3,479.8 C463.8,480.38 461.97,480.97 460.3,481.8 C458.63,482.63 456.97,483.63 455.3,484.8 C453.63,485.97 451.97,487.22 450.3,488.8 C448.63,490.38 446.72,492.38 445.3,494.3 C443.88,496.22 442.8,498.3 441.8,500.3 C440.8,502.3 439.88,504.3 439.3,506.3 C438.72,508.3 438.58,509.97 438.3,512.3 C438.02,514.63 437.6,517.63 437.6,520.3 C437.6,522.97 437.77,525.8 438.3,528.3 C438.83,530.8 439.97,533.3 440.8,535.3 C441.63,537.3 442.22,538.8 443.3,540.3 C444.38,541.8 445.63,543.05 447.3,544.3 C448.97,545.55 450.97,546.8 453.3,547.8 C455.63,548.8 458.47,549.68 461.3,550.3 C464.13,550.92 467.47,551.25 470.3,551.5 C473.13,551.75 476.38,551.78 478.3,551.8 C480.22,551.82 480.88,552.43 481.8,551.6 C482.72,550.77 483.35,548.52 483.8,546.8 C484.25,545.08 484.38,544.05 484.5,541.3 C484.62,538.55 484.5,535.47 484.5,530.3 C484.5,525.13 484.5,516.13 484.5,510.3 C484.5,504.47 484.53,499.97 484.5,495.3 C484.47,490.63 484.58,485.05 484.3,482.3 Z" fill="url(#bgrad)"/>
<path d="M485.3,482.3 C485.58,479.38 485.97,478.75 486.8,477.8 C487.63,476.85 489.22,476.82 490.3,476.6 C491.38,476.38 491.8,476.38 493.3,476.5 C494.8,476.62 497.3,476.83 499.3,477.3 C501.3,477.77 503.3,478.47 505.3,479.3 C507.3,480.13 509.47,481.13 511.3,482.3 C513.13,483.47 514.63,484.8 516.3,486.3 C517.97,487.8 519.8,489.47 521.3,491.3 C522.8,493.13 524.22,495.3 525.3,497.3 C526.38,499.3 527.13,501.13 527.8,503.3 C528.47,505.47 528.85,508.3 529.3,510.3 C529.75,512.3 530.23,513.55 530.5,515.3 C530.77,517.05 530.82,519.03 530.9,520.8 C530.98,522.57 530.93,524.23 531,525.9 C531.07,527.57 531.32,529.15 531.3,530.8 C531.28,532.45 531.23,534.3 530.9,535.8 C530.57,537.3 530.12,538.58 529.3,539.8 C528.48,541.02 527.37,542 526,543.1 C524.63,544.2 522.88,545.43 521.1,546.4 C519.32,547.37 517.2,548.22 515.3,548.9 C513.4,549.58 511.73,550.03 509.7,550.5 C507.67,550.97 505.28,551.43 503.1,551.7 C500.92,551.97 498.57,552.07 496.6,552.1 C494.63,552.13 492.77,552.02 491.3,551.9 C489.83,551.78 488.72,552.25 487.8,551.4 C486.88,550.55 486.25,548.48 485.8,546.8 C485.35,545.12 485.22,544.05 485.1,541.3 C484.98,538.55 485.1,535.47 485.1,530.3 C485.1,525.13 485.1,516.13 485.1,510.3 C485.1,504.47 485.07,499.97 485.1,495.3 C485.13,490.63 485.02,485.22 485.3,482.3 Z" fill="url(#bgrad)"/>
<g clip-path="url(#bc6)">
<rect x="437.6" y="476.5" width="93.7" height="75.6" filter="url(#hil)" opacity="0.6"/>
<rect x="437.6" y="476.5" width="93.7" height="75.6" filter="url(#sul)" opacity="0.5"/>
<path d="M445,500 Q442,507 445,515" stroke="#d6cfa6" stroke-width="2.2" fill="none" stroke-opacity="0.45"/>
<rect x="480" y="479.7" width="7.7" height="32.5" fill="#a4bcb4" fill-opacity="0.75"/>
<path d="M465.4,484.6 C465.75,485.08 466.8,488.86 466.8,490.1 C466.8,491.34 465.34,495.62 465.4,497 C465.46,498.38 467.33,502.66 467.4,503.9 C467.47,505.14 466.37,508.43 466.1,509.4 C465.83,510.37 464.98,512.91 464.7,513.6 C464.42,514.29 463.85,515.89 463.3,516.3 C462.75,516.71 460.1,517.83 459.2,517.7 C458.3,517.57 454.86,515.83 454.3,515 C453.74,514.17 453.94,510.65 453.6,509.4 C453.26,508.15 451.31,503.88 450.9,502.5 C450.49,501.12 449.43,496.7 449.5,495.6 C449.57,494.5 450.77,492.33 451.6,491.5 C452.43,490.67 456.63,487.92 457.8,487.3 C458.97,486.68 462.54,485.57 463.3,485.3 C464.06,485.03 465.05,484.12 465.4,484.6 Z" fill="#c8b8dc" fill-opacity="0.7"/>
<path d="M464.2,484.6 C464.26,484.87 463.61,486.3 463.79,486.64 C463.97,486.98 465.82,487.66 466,488.01 C466.18,488.35 465.77,489.68 465.6,490.1 C465.43,490.52 464.26,491.72 464.26,492.2 C464.25,492.67 465.56,494.35 465.56,494.83 C465.55,495.31 464.36,496.53 464.2,497 C464.04,497.47 463.78,499.1 464,499.53 C464.21,499.96 466.16,500.87 466.38,501.3 C466.6,501.74 466.35,503.48 466.2,503.9 C466.05,504.32 464.89,505.12 464.9,505.51 C464.9,505.89 466.22,507.35 466.22,507.74 C466.22,508.13 465.16,509.12 464.9,509.4 C464.64,509.68 463.59,510.2 463.58,510.5 C463.58,510.81 464.84,512.15 464.83,512.46 C464.82,512.77 463.76,513.44 463.5,513.6 C463.24,513.76 462.25,513.86 462.24,514.08 C462.23,514.3 463.39,515.57 463.37,515.8 C463.36,516.02 462.39,516.29 462.1,516.3 C461.81,516.31 460.7,515.73 460.46,515.91 C460.21,516.09 459.93,517.9 459.68,518.08 C459.44,518.25 458.29,517.91 458,517.7 C457.71,517.49 457.18,516.12 456.82,516.02 C456.45,515.92 454.7,516.81 454.33,516.71 C453.96,516.6 453.16,515.37 453.1,515 C453.04,514.63 453.9,513.4 453.76,513.04 C453.63,512.68 451.88,511.78 451.74,511.42 C451.61,511.05 452.34,509.86 452.4,509.4 C452.46,508.94 452.61,507.22 452.35,506.8 C452.09,506.37 450.04,505.6 449.78,505.17 C449.52,504.74 449.67,503.01 449.7,502.5 C449.73,501.99 450.3,500.48 450.12,500.04 C449.94,499.61 448.08,498.57 447.89,498.12 C447.71,497.68 448.11,495.95 448.3,495.6 C448.49,495.25 449.74,494.97 449.79,494.66 C449.85,494.35 448.82,492.8 448.88,492.48 C448.95,492.17 449.99,491.66 450.4,491.5 C450.81,491.34 452.59,491.21 452.95,490.86 C453.31,490.51 453.62,488.34 453.99,487.98 C454.35,487.63 456.13,487.35 456.6,487.3 C457.07,487.25 458.39,487.7 458.72,487.49 C459.05,487.27 459.58,485.35 459.92,485.13 C460.26,484.92 461.78,485.22 462.1,485.3 C462.42,485.38 462.97,486.05 463.08,485.92 C463.19,485.79 463.09,484.12 463.2,483.98 C463.31,483.85 464.14,484.33 464.2,484.6 Z" fill="#563a98" fill-opacity="1"/>
<rect x="487.7" y="479.7" width="16.1" height="23.3" fill="#22daa2" fill-opacity="1"/>
<rect x="487.7" y="503" width="16.1" height="9.2" fill="#34c8a0" fill-opacity="1"/>
<rect x="503.8" y="487.3" width="8.0" height="16.6" fill="#94cabb" fill-opacity="0.9"/>
<rect x="480" y="512.2" width="7.7" height="23.5" fill="#d8b2c0" fill-opacity="0.85"/>
<rect x="487.7" y="519.8" width="8.3" height="15.9" fill="#e0b8c8" fill-opacity="0.85"/>
<rect x="496" y="527.4" width="7.8" height="16.6" fill="#e0b0c2" fill-opacity="0.85"/>
<rect x="455.9" y="519.8" width="8.3" height="9.0" fill="#a8d8c8" fill-opacity="0.85"/>
<rect x="464.2" y="528.8" width="15.8" height="6.9" fill="#a8d8c8" fill-opacity="0.85"/>
<path d="M464.2,512.2 C464.78,512.12 468.37,512.86 469.41,512.8 C470.46,512.74 473.57,511.66 474.63,511.6 C475.69,511.54 479.48,511.86 480,512.2 C480.52,512.54 479.72,514.5 479.87,515.04 C480.02,515.58 481.36,517.03 481.52,517.58 C481.67,518.12 481.52,519.94 481.4,520.5 C481.28,521.06 480.38,522.58 480.35,523.14 C480.31,523.7 481.1,525.51 481.07,526.08 C481.03,526.64 480.32,528.44 480,528.8 C479.68,529.16 478.15,529.35 477.83,529.67 C477.5,529.99 477.06,531.66 476.73,531.99 C476.4,532.31 475,532.87 474.5,532.9 C474,532.93 472.31,532.24 471.76,532.3 C471.21,532.36 469.58,533.44 469.02,533.5 C468.47,533.56 466.63,533.14 466.2,532.9 C465.77,532.66 465.14,531.29 464.74,531.07 C464.34,530.84 462.62,530.9 462.21,530.68 C461.81,530.45 460.84,529.19 460.7,528.8 C460.56,528.41 460.97,527.16 460.82,526.81 C460.67,526.45 459.35,525.61 459.19,525.25 C459.04,524.89 459.19,523.52 459.3,523.2 C459.41,522.88 460.29,522.33 460.33,522.04 C460.37,521.75 459.62,520.59 459.66,520.3 C459.69,520.01 460.44,519.27 460.7,519.1 C460.96,518.93 462.04,518.88 462.23,518.64 C462.42,518.41 462.44,517.02 462.64,516.78 C462.83,516.55 463.98,516.48 464.2,516.3 C464.42,516.12 464.86,515.22 464.8,514.95 C464.74,514.68 463.66,513.87 463.6,513.59 C463.54,513.32 463.62,512.28 464.2,512.2 Z" fill="#1a5038" fill-opacity="1"/>
<rect x="477.3" y="515" width="4.1" height="11" fill="#6a2a40" fill-opacity="0.35"/>
<rect x="456" y="525" width="3.5" height="3" fill="#80e060" fill-opacity="0.8"/>
<rect x="496" y="533" width="4.8" height="6.8" fill="#a06008" fill-opacity="1"/>
<path d="M484.3,482.3 C484.02,479.55 483.63,479.6 482.8,478.8 C481.97,478 480.55,477.72 479.3,477.5 C478.05,477.28 476.97,477.37 475.3,477.5 C473.63,477.63 470.97,477.92 469.3,478.3 C467.63,478.68 466.8,479.22 465.3,479.8 C463.8,480.38 461.97,480.97 460.3,481.8 C458.63,482.63 456.97,483.63 455.3,484.8 C453.63,485.97 451.97,487.22 450.3,488.8 C448.63,490.38 446.72,492.38 445.3,494.3 C443.88,496.22 442.8,498.3 441.8,500.3 C440.8,502.3 439.88,504.3 439.3,506.3 C438.72,508.3 438.58,509.97 438.3,512.3 C438.02,514.63 437.6,517.63 437.6,520.3 C437.6,522.97 437.77,525.8 438.3,528.3 C438.83,530.8 439.97,533.3 440.8,535.3 C441.63,537.3 442.22,538.8 443.3,540.3 C444.38,541.8 445.63,543.05 447.3,544.3 C448.97,545.55 450.97,546.8 453.3,547.8 C455.63,548.8 458.47,549.68 461.3,550.3 C464.13,550.92 467.47,551.25 470.3,551.5 C473.13,551.75 476.38,551.78 478.3,551.8 C480.22,551.82 480.88,552.43 481.8,551.6 C482.72,550.77 483.35,548.52 483.8,546.8 C484.25,545.08 484.38,544.05 484.5,541.3 C484.62,538.55 484.5,535.47 484.5,530.3 C484.5,525.13 484.5,516.13 484.5,510.3 C484.5,504.47 484.53,499.97 484.5,495.3 C484.47,490.63 484.58,485.05 484.3,482.3 Z" fill="none" stroke="#6a6a6a" stroke-opacity="0.35" stroke-width="3"/>
<path d="M485.3,482.3 C485.58,479.38 485.97,478.75 486.8,477.8 C487.63,476.85 489.22,476.82 490.3,476.6 C491.38,476.38 491.8,476.38 493.3,476.5 C494.8,476.62 497.3,476.83 499.3,477.3 C501.3,477.77 503.3,478.47 505.3,479.3 C507.3,480.13 509.47,481.13 511.3,482.3 C513.13,483.47 514.63,484.8 516.3,486.3 C517.97,487.8 519.8,489.47 521.3,491.3 C522.8,493.13 524.22,495.3 525.3,497.3 C526.38,499.3 527.13,501.13 527.8,503.3 C528.47,505.47 528.85,508.3 529.3,510.3 C529.75,512.3 530.23,513.55 530.5,515.3 C530.77,517.05 530.82,519.03 530.9,520.8 C530.98,522.57 530.93,524.23 531,525.9 C531.07,527.57 531.32,529.15 531.3,530.8 C531.28,532.45 531.23,534.3 530.9,535.8 C530.57,537.3 530.12,538.58 529.3,539.8 C528.48,541.02 527.37,542 526,543.1 C524.63,544.2 522.88,545.43 521.1,546.4 C519.32,547.37 517.2,548.22 515.3,548.9 C513.4,549.58 511.73,550.03 509.7,550.5 C507.67,550.97 505.28,551.43 503.1,551.7 C500.92,551.97 498.57,552.07 496.6,552.1 C494.63,552.13 492.77,552.02 491.3,551.9 C489.83,551.78 488.72,552.25 487.8,551.4 C486.88,550.55 486.25,548.48 485.8,546.8 C485.35,545.12 485.22,544.05 485.1,541.3 C484.98,538.55 485.1,535.47 485.1,530.3 C485.1,525.13 485.1,516.13 485.1,510.3 C485.1,504.47 485.07,499.97 485.1,495.3 C485.13,490.63 485.02,485.22 485.3,482.3 Z" fill="none" stroke="#6a6a6a" stroke-opacity="0.35" stroke-width="3"/>
</g>
<path d="M484.3,482.3 C484.02,479.55 483.63,479.6 482.8,478.8 C481.97,478 480.55,477.72 479.3,477.5 C478.05,477.28 476.97,477.37 475.3,477.5 C473.63,477.63 470.97,477.92 469.3,478.3 C467.63,478.68 466.8,479.22 465.3,479.8 C463.8,480.38 461.97,480.97 460.3,481.8 C458.63,482.63 456.97,483.63 455.3,484.8 C453.63,485.97 451.97,487.22 450.3,488.8 C448.63,490.38 446.72,492.38 445.3,494.3 C443.88,496.22 442.8,498.3 441.8,500.3 C440.8,502.3 439.88,504.3 439.3,506.3 C438.72,508.3 438.58,509.97 438.3,512.3 C438.02,514.63 437.6,517.63 437.6,520.3 C437.6,522.97 437.77,525.8 438.3,528.3 C438.83,530.8 439.97,533.3 440.8,535.3 C441.63,537.3 442.22,538.8 443.3,540.3 C444.38,541.8 445.63,543.05 447.3,544.3 C448.97,545.55 450.97,546.8 453.3,547.8 C455.63,548.8 458.47,549.68 461.3,550.3 C464.13,550.92 467.47,551.25 470.3,551.5 C473.13,551.75 476.38,551.78 478.3,551.8 C480.22,551.82 480.88,552.43 481.8,551.6 C482.72,550.77 483.35,548.52 483.8,546.8 C484.25,545.08 484.38,544.05 484.5,541.3 C484.62,538.55 484.5,535.47 484.5,530.3 C484.5,525.13 484.5,516.13 484.5,510.3 C484.5,504.47 484.53,499.97 484.5,495.3 C484.47,490.63 484.58,485.05 484.3,482.3 Z" fill="none" stroke="#5a5a5a" stroke-width="0.9"/>
<path d="M485.3,482.3 C485.58,479.38 485.97,478.75 486.8,477.8 C487.63,476.85 489.22,476.82 490.3,476.6 C491.38,476.38 491.8,476.38 493.3,476.5 C494.8,476.62 497.3,476.83 499.3,477.3 C501.3,477.77 503.3,478.47 505.3,479.3 C507.3,480.13 509.47,481.13 511.3,482.3 C513.13,483.47 514.63,484.8 516.3,486.3 C517.97,487.8 519.8,489.47 521.3,491.3 C522.8,493.13 524.22,495.3 525.3,497.3 C526.38,499.3 527.13,501.13 527.8,503.3 C528.47,505.47 528.85,508.3 529.3,510.3 C529.75,512.3 530.23,513.55 530.5,515.3 C530.77,517.05 530.82,519.03 530.9,520.8 C530.98,522.57 530.93,524.23 531,525.9 C531.07,527.57 531.32,529.15 531.3,530.8 C531.28,532.45 531.23,534.3 530.9,535.8 C530.57,537.3 530.12,538.58 529.3,539.8 C528.48,541.02 527.37,542 526,543.1 C524.63,544.2 522.88,545.43 521.1,546.4 C519.32,547.37 517.2,548.22 515.3,548.9 C513.4,549.58 511.73,550.03 509.7,550.5 C507.67,550.97 505.28,551.43 503.1,551.7 C500.92,551.97 498.57,552.07 496.6,552.1 C494.63,552.13 492.77,552.02 491.3,551.9 C489.83,551.78 488.72,552.25 487.8,551.4 C486.88,550.55 486.25,548.48 485.8,546.8 C485.35,545.12 485.22,544.05 485.1,541.3 C484.98,538.55 485.1,535.47 485.1,530.3 C485.1,525.13 485.1,516.13 485.1,510.3 C485.1,504.47 485.07,499.97 485.1,495.3 C485.13,490.63 485.02,485.22 485.3,482.3 Z" fill="none" stroke="#5a5a5a" stroke-width="0.9"/>
<path d="M484.8,480.5 V544.8" stroke="#555" stroke-width="1.3"/>
<rect x="487.7" y="472.1" width="16.1" height="7.6" fill="#c0f6f2" fill-opacity="1"/>
<rect x="5.5" y="5" width="537.5" height="111" rx="9" ry="9" fill="none" stroke="#8e8e8e" stroke-width="1.85"/>
<rect x="5.5" y="118.8" width="537.5" height="111.2" rx="9" ry="9" fill="none" stroke="#8e8e8e" stroke-width="1.85"/>
<rect x="5.5" y="233.5" width="537.5" height="111.5" rx="9" ry="9" fill="none" stroke="#8e8e8e" stroke-width="1.85"/>
<path d="M14.5,348 H534 A9,9 0 0 1 543,357 V565.5 A9,9 0 0 1 534,574.5 H441 A9,9 0 0 1 432,565.5 V468.2 A9,9 0 0 0 423,459.2 H14.5 A9,9 0 0 1 5.5,450.2 V357 A9,9 0 0 1 14.5,348 Z" fill="none" stroke="#6a6a6a" stroke-width="1.8"/>
<rect x="5.5" y="462.5" width="196" height="111.5" rx="9" ry="9" fill="none" stroke="#8e8e8e" stroke-width="1.85"/>
<rect x="206" y="462.5" width="222.3" height="111.5" rx="9" ry="9" fill="none" stroke="#8e8e8e" stroke-width="1.85"/>
<text x="17.2" y="26.8" font-size="16.4" font-weight="bold" fill="#000" stroke="#000" stroke-width="0.22" text-anchor="start" textLength="12.28" lengthAdjust="spacingAndGlyphs">A</text>
<text x="17.8" y="145.8" font-size="16.4" font-weight="bold" fill="#000" stroke="#000" stroke-width="0.22" text-anchor="start" textLength="12.28" lengthAdjust="spacingAndGlyphs">B</text>
<text x="17.6" y="260.5" font-size="16.4" font-weight="bold" fill="#000" stroke="#000" stroke-width="0.22" text-anchor="start" textLength="12.28" lengthAdjust="spacingAndGlyphs">C</text>
<text x="17.8" y="375.2" font-size="16.4" font-weight="bold" fill="#000" stroke="#000" stroke-width="0.22" text-anchor="start" textLength="12.28" lengthAdjust="spacingAndGlyphs">D</text>
<text x="17.8" y="489.5" font-size="16.4" font-weight="bold" fill="#000" stroke="#000" stroke-width="0.22" text-anchor="start" textLength="11.34" lengthAdjust="spacingAndGlyphs">E</text>
<text x="215" y="489.7" font-size="16.4" font-weight="bold" fill="#000" stroke="#000" stroke-width="0.22" text-anchor="start" textLength="10.38" lengthAdjust="spacingAndGlyphs">F</text>
<text transform="translate(22,64.55) rotate(-90)" x="0" y="0" text-anchor="middle" dominant-baseline="central" font-size="14.2" fill="#959595" stroke="#959595" stroke-width="0.2" textLength="23.4" lengthAdjust="spacingAndGlyphs">LZC</text>
<text transform="translate(22.1,185.65) rotate(-90)" x="0" y="0" text-anchor="middle" dominant-baseline="central" font-size="14.2" fill="#a69ca2" stroke="#a69ca2" stroke-width="0.2" textLength="30.89" lengthAdjust="spacingAndGlyphs">PeEn</text>
<text transform="translate(21.9,300.3) rotate(-90)" x="0" y="0" text-anchor="middle" dominant-baseline="central" font-size="14.2" fill="#959595" stroke="#959595" stroke-width="0.2" textLength="16.02" lengthAdjust="spacingAndGlyphs">FD</text>
<text transform="translate(21.9,415) rotate(-90)" x="0" y="0" text-anchor="middle" dominant-baseline="central" font-size="14.2" fill="#959595" stroke="#959595" stroke-width="0.2" textLength="20.18" lengthAdjust="spacingAndGlyphs">WE</text>
<text transform="translate(22,528.75) rotate(-90)" x="0" y="0" text-anchor="middle" dominant-baseline="central" font-size="14.2" fill="#959595" stroke="#959595" stroke-width="0.2" textLength="25.27" lengthAdjust="spacingAndGlyphs">SSV</text>
<text transform="translate(220,529.45) rotate(-90)" x="0" y="0" text-anchor="middle" dominant-baseline="central" font-size="14.2" fill="#959595" stroke="#959595" stroke-width="0.2" textLength="32.14" lengthAdjust="spacingAndGlyphs">SpEn</text>
<path d="M69,13.7 V99.2 H419" fill="none" stroke="#000" stroke-width="1.5"/>
<path d="M69,14.2 h3" stroke="#000" stroke-width="1.3"/>
<text x="65.1" y="16.8" font-size="7.3" font-weight="bold" fill="#0d0d0d" stroke="#0d0d0d" stroke-width="0.22" text-anchor="end" textLength="15.57" lengthAdjust="spacingAndGlyphs">0.28</text>
<path d="M69,54.3 h3" stroke="#000" stroke-width="1.3"/>
<text x="65.1" y="56.9" font-size="7.3" font-weight="bold" fill="#0d0d0d" stroke="#0d0d0d" stroke-width="0.22" text-anchor="end" textLength="15.57" lengthAdjust="spacingAndGlyphs">0.23</text>
<path d="M69,99.2 h3" stroke="#000" stroke-width="1.3"/>
<text x="65.1" y="101.8" font-size="7.3" font-weight="bold" fill="#0d0d0d" stroke="#0d0d0d" stroke-width="0.22" text-anchor="end" textLength="15.57" lengthAdjust="spacingAndGlyphs">0.18</text>
<rect x="76.85" y="55.5" width="10" height="43.7" fill="#2166c2" stroke="#140a14" stroke-width="1.3"/>
<rect x="86.85" y="45.1" width="10" height="54.1" fill="#e05ef0" stroke="#140a14" stroke-width="1.3"/>
<rect x="96.85" y="55.5" width="10" height="43.7" fill="#e68e0e" stroke="#140a14" stroke-width="1.3"/>
<path d="M81.85,52.2 V59 M80.25,52.2 h3.2 M80.25,59 h3.2" stroke="#111" stroke-width="1.05"/>
<path d="M91.85,41.3 V49.1 M90.25,41.3 h3.2 M90.25,49.1 h3.2" stroke="#111" stroke-width="1.05"/>
<path d="M101.85,52.2 V59.3 M100.25,52.2 h3.2 M100.25,59.3 h3.2" stroke="#111" stroke-width="1.05"/>
<path d="M81.25,35.8 H92.25" stroke="#bb4a36" stroke-width="1.5"/>
<path d="M87.05,32.3 L87.05,29.25 M87.05,32.3 L89.95,31.36 M87.05,32.3 L88.84,34.77 M87.05,32.3 L85.26,34.77 M87.05,32.3 L84.15,31.36 " stroke="#a4522e" stroke-width="1.5" stroke-linecap="butt" fill="none"/>
<text x="91.85" y="107.3" font-size="7.2" font-weight="bold" fill="#111" stroke="#111" stroke-width="0.22" text-anchor="middle" textLength="26.33" lengthAdjust="spacingAndGlyphs">L_CAC</text>
<rect x="120.21" y="46" width="10" height="53.2" fill="#2166c2" stroke="#140a14" stroke-width="1.3"/>
<rect x="130.21" y="36.4" width="10" height="62.8" fill="#e05ef0" stroke="#140a14" stroke-width="1.3"/>
<rect x="140.21" y="49" width="10" height="50.2" fill="#e68e0e" stroke="#140a14" stroke-width="1.3"/>
<path d="M125.21,42.7 V49.6 M123.61,42.7 h3.2 M123.61,49.6 h3.2" stroke="#111" stroke-width="1.05"/>
<path d="M135.21,32.7 V40 M133.61,32.7 h3.2 M133.61,40 h3.2" stroke="#111" stroke-width="1.05"/>
<path d="M145.21,45.5 V52.7 M143.61,45.5 h3.2 M143.61,52.7 h3.2" stroke="#111" stroke-width="1.05"/>
<path d="M124.61,28.7 H135.61" stroke="#bb4a36" stroke-width="1.5"/>
<path d="M130.41,25.7 L130.41,22.65 M130.41,25.7 L133.31,24.76 M130.41,25.7 L132.2,28.17 M130.41,25.7 L128.62,28.17 M130.41,25.7 L127.51,24.76 " stroke="#a4522e" stroke-width="1.5" stroke-linecap="butt" fill="none"/>
<text x="135.21" y="107.3" font-size="7.2" font-weight="bold" fill="#111" stroke="#111" stroke-width="0.22" text-anchor="middle" textLength="25.02" lengthAdjust="spacingAndGlyphs">L_ENT</text>
<rect x="163.57" y="48.2" width="10" height="51" fill="#2166c2" stroke="#140a14" stroke-width="1.3"/>
<rect x="173.57" y="39.1" width="10" height="60.1" fill="#e05ef0" stroke="#140a14" stroke-width="1.3"/>
<rect x="183.57" y="49.1" width="10" height="50.1" fill="#e68e0e" stroke="#140a14" stroke-width="1.3"/>
<path d="M168.57,45 V51.5 M166.97,45 h3.2 M166.97,51.5 h3.2" stroke="#111" stroke-width="1.05"/>
<path d="M178.57,36 V42.4 M176.97,36 h3.2 M176.97,42.4 h3.2" stroke="#111" stroke-width="1.05"/>
<path d="M188.57,46.4 V52.2 M186.97,46.4 h3.2 M186.97,52.2 h3.2" stroke="#111" stroke-width="1.05"/>
<path d="M167.97,31.8 H178.97" stroke="#bb4a36" stroke-width="1.5"/>
<path d="M173.77,28.6 L173.77,25.55 M173.77,28.6 L176.67,27.66 M173.77,28.6 L175.56,31.07 M173.77,28.6 L171.98,31.07 M173.77,28.6 L170.87,27.66 " stroke="#a4522e" stroke-width="1.5" stroke-linecap="butt" fill="none"/>
<text x="178.57" y="107.3" font-size="7.2" font-weight="bold" fill="#111" stroke="#111" stroke-width="0.22" text-anchor="middle" textLength="22.39" lengthAdjust="spacingAndGlyphs">L_INS</text>
<rect x="206.93" y="50.4" width="10" height="48.8" fill="#2166c2" stroke="#140a14" stroke-width="1.3"/>
<rect x="216.93" y="38.7" width="10" height="60.5" fill="#e05ef0" stroke="#140a14" stroke-width="1.3"/>
<rect x="226.93" y="51.5" width="10" height="47.7" fill="#e68e0e" stroke="#140a14" stroke-width="1.3"/>
<path d="M211.93,46.4 V54.5 M210.33,46.4 h3.2 M210.33,54.5 h3.2" stroke="#111" stroke-width="1.05"/>
<path d="M221.93,35.5 V42.4 M220.33,35.5 h3.2 M220.33,42.4 h3.2" stroke="#111" stroke-width="1.05"/>
<path d="M231.93,47.8 V55 M230.33,47.8 h3.2 M230.33,55 h3.2" stroke="#111" stroke-width="1.05"/>
<path d="M211.33,31.3 H222.33" stroke="#bb4a36" stroke-width="1.5"/>
<path d="M217.13,28.6 L217.13,25.55 M217.13,28.6 L220.03,27.66 M217.13,28.6 L218.92,31.07 M217.13,28.6 L215.34,31.07 M217.13,28.6 L214.23,27.66 " stroke="#a4522e" stroke-width="1.5" stroke-linecap="butt" fill="none"/>
<text x="221.93" y="107.3" font-size="7.2" font-weight="bold" fill="#111" stroke="#111" stroke-width="0.22" text-anchor="middle" textLength="23.27" lengthAdjust="spacingAndGlyphs">R_INS</text>
<rect x="250.29" y="47.3" width="10" height="51.9" fill="#2166c2" stroke="#140a14" stroke-width="1.3"/>
<rect x="260.29" y="35.5" width="10" height="63.7" fill="#e05ef0" stroke="#140a14" stroke-width="1.3"/>
<rect x="270.29" y="49" width="10" height="50.2" fill="#e68e0e" stroke="#140a14" stroke-width="1.3"/>
<path d="M255.29,43.3 V51.5 M253.69,43.3 h3.2 M253.69,51.5 h3.2" stroke="#111" stroke-width="1.05"/>
<path d="M265.29,32.2 V39 M263.69,32.2 h3.2 M263.69,39 h3.2" stroke="#111" stroke-width="1.05"/>
<path d="M275.29,45.5 V53.6 M273.69,45.5 h3.2 M273.69,53.6 h3.2" stroke="#111" stroke-width="1.05"/>
<path d="M254.69,28.2 H265.69" stroke="#bb4a36" stroke-width="1.5"/>
<path d="M260.49,25 L260.49,21.95 M260.49,25 L263.39,24.06 M260.49,25 L262.28,27.47 M260.49,25 L258.7,27.47 M260.49,25 L257.59,24.06 " stroke="#a4522e" stroke-width="1.5" stroke-linecap="butt" fill="none"/>
<text x="265.29" y="107.3" font-size="7.2" font-weight="bold" fill="#111" stroke="#111" stroke-width="0.22" text-anchor="middle" textLength="26.77" lengthAdjust="spacingAndGlyphs">L_MOF</text>
<rect x="293.65" y="51.3" width="10" height="47.9" fill="#2166c2" stroke="#140a14" stroke-width="1.3"/>
<rect x="303.65" y="38.2" width="10" height="61" fill="#e05ef0" stroke="#140a14" stroke-width="1.3"/>
<rect x="313.65" y="52.2" width="10" height="47" fill="#e68e0e" stroke="#140a14" stroke-width="1.3"/>
<path d="M298.65,46.4 V55.5 M297.05,46.4 h3.2 M297.05,55.5 h3.2" stroke="#111" stroke-width="1.05"/>
<path d="M308.65,34.5 V42.4 M307.05,34.5 h3.2 M307.05,42.4 h3.2" stroke="#111" stroke-width="1.05"/>
<path d="M318.65,48.5 V56.4 M317.05,48.5 h3.2 M317.05,56.4 h3.2" stroke="#111" stroke-width="1.05"/>
<path d="M298.05,31.3 H309.05" stroke="#bb4a36" stroke-width="1.5"/>
<path d="M303.85,28.4 L303.85,25.35 M303.85,28.4 L306.75,27.46 M303.85,28.4 L305.64,30.87 M303.85,28.4 L302.06,30.87 M303.85,28.4 L300.95,27.46 " stroke="#a4522e" stroke-width="1.5" stroke-linecap="butt" fill="none"/>
<text x="308.65" y="107.3" font-size="7.2" font-weight="bold" fill="#111" stroke="#111" stroke-width="0.22" text-anchor="middle" textLength="32.05" lengthAdjust="spacingAndGlyphs">R_POPE</text>
<rect x="337.01" y="66" width="10" height="33.2" fill="#2166c2" stroke="#140a14" stroke-width="1.3"/>
<rect x="347.01" y="54.2" width="10" height="45" fill="#e05ef0" stroke="#140a14" stroke-width="1.3"/>
<rect x="357.01" y="62.4" width="10" height="36.8" fill="#e68e0e" stroke="#140a14" stroke-width="1.3"/>
<path d="M342.01,62.4 V70 M340.41,62.4 h3.2 M340.41,70 h3.2" stroke="#111" stroke-width="1.05"/>
<path d="M352.01,50.4 V58.7 M350.41,50.4 h3.2 M350.41,58.7 h3.2" stroke="#111" stroke-width="1.05"/>
<path d="M362.01,58.7 V66.4 M360.41,58.7 h3.2 M360.41,66.4 h3.2" stroke="#111" stroke-width="1.05"/>
<path d="M341.41,47.8 H352.41" stroke="#bb4a36" stroke-width="1.5"/>
<path d="M347.21,44.8 L347.21,41.75 M347.21,44.8 L350.11,43.86 M347.21,44.8 L349,47.27 M347.21,44.8 L345.42,47.27 M347.21,44.8 L344.31,43.86 " stroke="#a4522e" stroke-width="1.5" stroke-linecap="butt" fill="none"/>
<text x="352.01" y="107.3" font-size="7.2" font-weight="bold" fill="#111" stroke="#111" stroke-width="0.22" text-anchor="middle" textLength="26.78" lengthAdjust="spacingAndGlyphs">R_PCU</text>
<rect x="380.37" y="61.5" width="10" height="37.7" fill="#2166c2" stroke="#140a14" stroke-width="1.3"/>
<rect x="390.37" y="49.5" width="10" height="49.7" fill="#e05ef0" stroke="#140a14" stroke-width="1.3"/>
<rect x="400.37" y="63.6" width="10" height="35.6" fill="#e68e0e" stroke="#140a14" stroke-width="1.3"/>
<path d="M385.37,57.3 V65.5 M383.77,57.3 h3.2 M383.77,65.5 h3.2" stroke="#111" stroke-width="1.05"/>
<path d="M395.37,45.5 V54.2 M393.77,45.5 h3.2 M393.77,54.2 h3.2" stroke="#111" stroke-width="1.05"/>
<path d="M405.37,60 V67.8 M403.77,60 h3.2 M403.77,67.8 h3.2" stroke="#111" stroke-width="1.05"/>
<path d="M384.77,42.2 H395.77" stroke="#bb4a36" stroke-width="1.5"/>
<path d="M390.57,39 L390.57,35.95 M390.57,39 L393.47,38.06 M390.57,39 L392.36,41.47 M390.57,39 L388.78,41.47 M390.57,39 L387.67,38.06 " stroke="#a4522e" stroke-width="1.5" stroke-linecap="butt" fill="none"/>
<text x="395.37" y="107.3" font-size="7.2" font-weight="bold" fill="#111" stroke="#111" stroke-width="0.22" text-anchor="middle" textLength="25.46" lengthAdjust="spacingAndGlyphs">L_SFG</text>
<path d="M69,128.3 V214.2 H417.3" fill="none" stroke="#000" stroke-width="1.5"/>
<path d="M69,128.7 h3" stroke="#000" stroke-width="1.3"/>
<text x="65.1" y="131.3" font-size="7.3" font-weight="bold" fill="#0d0d0d" stroke="#0d0d0d" stroke-width="0.22" text-anchor="end" textLength="20.02" lengthAdjust="spacingAndGlyphs">0.268</text>
<path d="M69,169.1 h3" stroke="#000" stroke-width="1.3"/>
<text x="65.1" y="171.7" font-size="7.3" font-weight="bold" fill="#0d0d0d" stroke="#0d0d0d" stroke-width="0.22" text-anchor="end" textLength="20.02" lengthAdjust="spacingAndGlyphs">0.263</text>
<path d="M69,214.2 h3" stroke="#000" stroke-width="1.3"/>
<text x="65.1" y="216.8" font-size="7.3" font-weight="bold" fill="#0d0d0d" stroke="#0d0d0d" stroke-width="0.22" text-anchor="end" textLength="20.02" lengthAdjust="spacingAndGlyphs">0.258</text>
<rect x="75.8" y="176" width="10.2" height="38.2" fill="#2166c2" stroke="#140a14" stroke-width="1.3"/>
<rect x="86" y="151.8" width="10.2" height="62.4" fill="#e05ef0" stroke="#140a14" stroke-width="1.3"/>
<rect x="96.2" y="176.4" width="10.2" height="37.8" fill="#e68e0e" stroke="#140a14" stroke-width="1.3"/>
<path d="M80.9,167.6 V184 M79.3,167.6 h3.2 M79.3,184 h3.2" stroke="#111" stroke-width="1.05"/>
<path d="M91.1,143.6 V160.4 M89.5,143.6 h3.2 M89.5,160.4 h3.2" stroke="#111" stroke-width="1.05"/>
<path d="M101.3,168.2 V184.5 M99.7,168.2 h3.2 M99.7,184.5 h3.2" stroke="#111" stroke-width="1.05"/>
<path d="M80.3,140.9 H91.5" stroke="#bb4a36" stroke-width="1.5"/>
<path d="M86.2,138.1 L86.2,135.05 M86.2,138.1 L89.1,137.16 M86.2,138.1 L87.99,140.57 M86.2,138.1 L84.41,140.57 M86.2,138.1 L83.3,137.16 " stroke="#a4522e" stroke-width="1.5" stroke-linecap="butt" fill="none"/>
<text x="91.1" y="222.3" font-size="7.2" font-weight="bold" fill="#111" stroke="#111" stroke-width="0.22" text-anchor="middle" textLength="25.9" lengthAdjust="spacingAndGlyphs">R_ENT</text>
<rect x="119.2" y="182.2" width="10.2" height="32" fill="#2166c2" stroke="#140a14" stroke-width="1.3"/>
<rect x="129.4" y="156.4" width="10.2" height="57.8" fill="#e05ef0" stroke="#140a14" stroke-width="1.3"/>
<rect x="139.6" y="180" width="10.2" height="34.2" fill="#e68e0e" stroke="#140a14" stroke-width="1.3"/>
<path d="M124.3,172.7 V191.3 M122.7,172.7 h3.2 M122.7,191.3 h3.2" stroke="#111" stroke-width="1.05"/>
<path d="M134.5,148.2 V164.5 M132.9,148.2 h3.2 M132.9,164.5 h3.2" stroke="#111" stroke-width="1.05"/>
<path d="M144.7,172 V188 M143.1,172 h3.2 M143.1,188 h3.2" stroke="#111" stroke-width="1.05"/>
<path d="M123.7,145.5 H134.9" stroke="#bb4a36" stroke-width="1.5"/>
<path d="M129.6,142.3 L129.6,139.25 M129.6,142.3 L132.5,141.36 M129.6,142.3 L131.39,144.77 M129.6,142.3 L127.81,144.77 M129.6,142.3 L126.7,141.36 " stroke="#a4522e" stroke-width="1.5" stroke-linecap="butt" fill="none"/>
<text x="134.5" y="222.3" font-size="7.2" font-weight="bold" fill="#111" stroke="#111" stroke-width="0.22" text-anchor="middle" textLength="22.38" lengthAdjust="spacingAndGlyphs">L_ITG</text>
<rect x="162.6" y="165.8" width="10.2" height="48.4" fill="#2166c2" stroke="#140a14" stroke-width="1.3"/>
<rect x="172.8" y="136.7" width="10.2" height="77.5" fill="#e05ef0" stroke="#140a14" stroke-width="1.3"/>
<rect x="183" y="166.9" width="10.2" height="47.3" fill="#e68e0e" stroke="#140a14" stroke-width="1.3"/>
<path d="M167.7,155.8 V175.5 M166.1,155.8 h3.2 M166.1,175.5 h3.2" stroke="#111" stroke-width="1.05"/>
<path d="M177.9,127.6 V146.4 M176.3,127.6 h3.2 M176.3,146.4 h3.2" stroke="#111" stroke-width="1.05"/>
<path d="M188.1,157.3 V177.3 M186.5,157.3 h3.2 M186.5,177.3 h3.2" stroke="#111" stroke-width="1.05"/>
<path d="M167.1,123.6 H178.3" stroke="#bb4a36" stroke-width="1.5"/>
<path d="M173,129 L173,125.95 M173,129 L175.9,128.06 M173,129 L174.79,131.47 M173,129 L171.21,131.47 M173,129 L170.1,128.06 " stroke="#a4522e" stroke-width="1.5" stroke-linecap="butt" fill="none"/>
<text x="177.9" y="222.3" font-size="7.2" font-weight="bold" fill="#111" stroke="#111" stroke-width="0.22" text-anchor="middle" textLength="23.27" lengthAdjust="spacingAndGlyphs">R_INS</text>
<rect x="206" y="158.7" width="10.2" height="55.5" fill="#2166c2" stroke="#140a14" stroke-width="1.3"/>
<rect x="216.2" y="136" width="10.2" height="78.2" fill="#e05ef0" stroke="#140a14" stroke-width="1.3"/>
<rect x="226.4" y="161" width="10.2" height="53.2" fill="#e68e0e" stroke="#140a14" stroke-width="1.3"/>
<path d="M211.1,151.3 V167 M209.5,151.3 h3.2 M209.5,167 h3.2" stroke="#111" stroke-width="1.05"/>
<path d="M221.3,128.2 V143.6 M219.7,128.2 h3.2 M219.7,143.6 h3.2" stroke="#111" stroke-width="1.05"/>
<path d="M231.5,153 V169 M229.9,153 h3.2 M229.9,169 h3.2" stroke="#111" stroke-width="1.05"/>
<path d="M210.5,126.9 H221.7" stroke="#bb4a36" stroke-width="1.5"/>
<path d="M216.4,123.5 L216.4,120.45 M216.4,123.5 L219.3,122.56 M216.4,123.5 L218.19,125.97 M216.4,123.5 L214.61,125.97 M216.4,123.5 L213.5,122.56 " stroke="#a4522e" stroke-width="1.5" stroke-linecap="butt" fill="none"/>
<text x="221.3" y="222.3" font-size="7.2" font-weight="bold" fill="#111" stroke="#111" stroke-width="0.22" text-anchor="middle" textLength="26.77" lengthAdjust="spacingAndGlyphs">L_MOF</text>
<rect x="249.4" y="189.1" width="10.2" height="25.1" fill="#2166c2" stroke="#140a14" stroke-width="1.3"/>
<rect x="259.6" y="160.4" width="10.2" height="53.8" fill="#e05ef0" stroke="#140a14" stroke-width="1.3"/>
<rect x="269.8" y="186.9" width="10.2" height="27.3" fill="#e68e0e" stroke="#140a14" stroke-width="1.3"/>
<path d="M254.5,178.5 V199.6 M252.9,178.5 h3.2 M252.9,199.6 h3.2" stroke="#111" stroke-width="1.05"/>
<path d="M264.7,150 V170.5 M263.1,150 h3.2 M263.1,170.5 h3.2" stroke="#111" stroke-width="1.05"/>
<path d="M274.9,176 V198 M273.3,176 h3.2 M273.3,198 h3.2" stroke="#111" stroke-width="1.05"/>
<path d="M253.9,148.2 H265.1" stroke="#bb4a36" stroke-width="1.5"/>
<path d="M259.8,144.4 L259.8,141.35 M259.8,144.4 L262.7,143.46 M259.8,144.4 L261.59,146.87 M259.8,144.4 L258.01,146.87 M259.8,144.4 L256.9,143.46 " stroke="#a4522e" stroke-width="1.5" stroke-linecap="butt" fill="none"/>
<text x="264.7" y="222.3" font-size="7.2" font-weight="bold" fill="#111" stroke="#111" stroke-width="0.22" text-anchor="middle" textLength="31.17" lengthAdjust="spacingAndGlyphs">L_POPE</text>
<rect x="292.8" y="170.5" width="10.2" height="43.7" fill="#2166c2" stroke="#140a14" stroke-width="1.3"/>
<rect x="303" y="143.6" width="10.2" height="70.6" fill="#e05ef0" stroke="#140a14" stroke-width="1.3"/>
<rect x="313.2" y="172.4" width="10.2" height="41.8" fill="#e68e0e" stroke="#140a14" stroke-width="1.3"/>
<path d="M297.9,162.2 V179.1 M296.3,162.2 h3.2 M296.3,179.1 h3.2" stroke="#111" stroke-width="1.05"/>
<path d="M308.1,136.4 V151.3 M306.5,136.4 h3.2 M306.5,151.3 h3.2" stroke="#111" stroke-width="1.05"/>
<path d="M318.3,164.5 V180.4 M316.7,164.5 h3.2 M316.7,180.4 h3.2" stroke="#111" stroke-width="1.05"/>
<path d="M297.3,133.6 H308.5" stroke="#bb4a36" stroke-width="1.5"/>
<path d="M303.2,130.3 L303.2,127.25 M303.2,130.3 L306.1,129.36 M303.2,130.3 L304.99,132.77 M303.2,130.3 L301.41,132.77 M303.2,130.3 L300.3,129.36 " stroke="#a4522e" stroke-width="1.5" stroke-linecap="butt" fill="none"/>
<text x="308.1" y="222.3" font-size="7.2" font-weight="bold" fill="#111" stroke="#111" stroke-width="0.22" text-anchor="middle" textLength="32.05" lengthAdjust="spacingAndGlyphs">R_POPE</text>
<rect x="336.2" y="170" width="10.2" height="44.2" fill="#2166c2" stroke="#140a14" stroke-width="1.3"/>
<rect x="346.4" y="145.1" width="10.2" height="69.1" fill="#e05ef0" stroke="#140a14" stroke-width="1.3"/>
<rect x="356.6" y="174.9" width="10.2" height="39.3" fill="#e68e0e" stroke="#140a14" stroke-width="1.3"/>
<path d="M341.3,161.5 V178.5 M339.7,161.5 h3.2 M339.7,178.5 h3.2" stroke="#111" stroke-width="1.05"/>
<path d="M351.5,136.4 V154.2 M349.9,136.4 h3.2 M349.9,154.2 h3.2" stroke="#111" stroke-width="1.05"/>
<path d="M361.7,166.4 V183.6 M360.1,166.4 h3.2 M360.1,183.6 h3.2" stroke="#111" stroke-width="1.05"/>
<path d="M340.7,133.6 H351.9" stroke="#bb4a36" stroke-width="1.5"/>
<path d="M346.6,129.8 L346.6,126.75 M346.6,129.8 L349.5,128.86 M346.6,129.8 L348.39,132.27 M346.6,129.8 L344.81,132.27 M346.6,129.8 L343.7,128.86 " stroke="#a4522e" stroke-width="1.5" stroke-linecap="butt" fill="none"/>
<text x="351.5" y="222.3" font-size="7.2" font-weight="bold" fill="#111" stroke="#111" stroke-width="0.22" text-anchor="middle" textLength="26.33" lengthAdjust="spacingAndGlyphs">L_RAC</text>
<rect x="379.6" y="168.2" width="10.2" height="46" fill="#2166c2" stroke="#140a14" stroke-width="1.3"/>
<rect x="389.8" y="145.1" width="10.2" height="69.1" fill="#e05ef0" stroke="#140a14" stroke-width="1.3"/>
<rect x="400" y="167.6" width="10.2" height="46.6" fill="#e68e0e" stroke="#140a14" stroke-width="1.3"/>
<path d="M384.7,160.4 V176 M383.1,160.4 h3.2 M383.1,176 h3.2" stroke="#111" stroke-width="1.05"/>
<path d="M394.9,137.3 V153.6 M393.3,137.3 h3.2 M393.3,153.6 h3.2" stroke="#111" stroke-width="1.05"/>
<path d="M405.1,160.4 V175.5 M403.5,160.4 h3.2 M403.5,175.5 h3.2" stroke="#111" stroke-width="1.05"/>
<path d="M384.1,135.5 H395.3" stroke="#bb4a36" stroke-width="1.5"/>
<path d="M390,132.1 L390,129.05 M390,132.1 L392.9,131.16 M390,132.1 L391.79,134.57 M390,132.1 L388.21,134.57 M390,132.1 L387.1,131.16 " stroke="#a4522e" stroke-width="1.5" stroke-linecap="butt" fill="none"/>
<text x="394.9" y="222.3" font-size="7.2" font-weight="bold" fill="#111" stroke="#111" stroke-width="0.22" text-anchor="middle" textLength="27.21" lengthAdjust="spacingAndGlyphs">R_RMF</text>
<path d="M68.5,245.2 V330 H377.8" fill="none" stroke="#000" stroke-width="1.5"/>
<path d="M68.5,245.5 h3" stroke="#000" stroke-width="1.3"/>
<text x="64.6" y="248.1" font-size="7.3" font-weight="bold" fill="#0d0d0d" stroke="#0d0d0d" stroke-width="0.22" text-anchor="end" textLength="15.57" lengthAdjust="spacingAndGlyphs">1.02</text>
<path d="M68.5,285.5 h3" stroke="#000" stroke-width="1.3"/>
<text x="64.6" y="288.1" font-size="7.3" font-weight="bold" fill="#0d0d0d" stroke="#0d0d0d" stroke-width="0.22" text-anchor="end" textLength="20.02" lengthAdjust="spacingAndGlyphs">1.018</text>
<path d="M68.5,330 h3" stroke="#000" stroke-width="1.3"/>
<text x="64.6" y="332.6" font-size="7.3" font-weight="bold" fill="#0d0d0d" stroke="#0d0d0d" stroke-width="0.22" text-anchor="end" textLength="20.02" lengthAdjust="spacingAndGlyphs">1.016</text>
<rect x="76" y="290" width="10.2" height="40" fill="#2166c2" stroke="#140a14" stroke-width="1.3"/>
<rect x="86.2" y="270.5" width="10.2" height="59.5" fill="#e05ef0" stroke="#140a14" stroke-width="1.3"/>
<rect x="96.4" y="292.3" width="10.2" height="37.7" fill="#e68e0e" stroke="#140a14" stroke-width="1.3"/>
<path d="M81.1,283.7 V296.5 M79.5,283.7 h3.2 M79.5,296.5 h3.2" stroke="#111" stroke-width="1.05"/>
<path d="M91.3,264 V277.7 M89.7,264 h3.2 M89.7,277.7 h3.2" stroke="#111" stroke-width="1.05"/>
<path d="M101.5,285.5 V299 M99.9,285.5 h3.2 M99.9,299 h3.2" stroke="#111" stroke-width="1.05"/>
<path d="M80.5,262.3 H91.7" stroke="#bb4a36" stroke-width="1.5"/>
<path d="M86.4,259.1 L86.4,256.05 M86.4,259.1 L89.3,258.16 M86.4,259.1 L88.19,261.57 M86.4,259.1 L84.61,261.57 M86.4,259.1 L83.5,258.16 " stroke="#a4522e" stroke-width="1.5" stroke-linecap="butt" fill="none"/>
<text x="91.3" y="338.1" font-size="7.2" font-weight="bold" fill="#111" stroke="#111" stroke-width="0.22" text-anchor="middle" textLength="23.27" lengthAdjust="spacingAndGlyphs">R_INS</text>
<rect x="119.33" y="281.4" width="10.2" height="48.6" fill="#2166c2" stroke="#140a14" stroke-width="1.3"/>
<rect x="129.53" y="261.4" width="10.2" height="68.6" fill="#e05ef0" stroke="#140a14" stroke-width="1.3"/>
<rect x="139.73" y="284" width="10.2" height="46" fill="#e68e0e" stroke="#140a14" stroke-width="1.3"/>
<path d="M124.43,275 V287.7 M122.83,275 h3.2 M122.83,287.7 h3.2" stroke="#111" stroke-width="1.05"/>
<path d="M134.63,255.4 V268 M133.03,255.4 h3.2 M133.03,268 h3.2" stroke="#111" stroke-width="1.05"/>
<path d="M144.83,277.7 V290.5 M143.23,277.7 h3.2 M143.23,290.5 h3.2" stroke="#111" stroke-width="1.05"/>
<path d="M123.83,253.5 H135.03" stroke="#bb4a36" stroke-width="1.5"/>
<path d="M129.73,250.8 L129.73,247.75 M129.73,250.8 L132.63,249.86 M129.73,250.8 L131.52,253.27 M129.73,250.8 L127.94,253.27 M129.73,250.8 L126.83,249.86 " stroke="#a4522e" stroke-width="1.5" stroke-linecap="butt" fill="none"/>
<text x="134.63" y="338.1" font-size="7.2" font-weight="bold" fill="#111" stroke="#111" stroke-width="0.22" text-anchor="middle" textLength="26.77" lengthAdjust="spacingAndGlyphs">L_MOF</text>
<rect x="162.66" y="286.3" width="10.2" height="43.7" fill="#2166c2" stroke="#140a14" stroke-width="1.3"/>
<rect x="172.86" y="266.3" width="10.2" height="63.7" fill="#e05ef0" stroke="#140a14" stroke-width="1.3"/>
<rect x="183.06" y="289.2" width="10.2" height="40.8" fill="#e68e0e" stroke="#140a14" stroke-width="1.3"/>
<path d="M167.76,279.5 V292.8 M166.16,279.5 h3.2 M166.16,292.8 h3.2" stroke="#111" stroke-width="1.05"/>
<path d="M177.96,260.5 V272.8 M176.36,260.5 h3.2 M176.36,272.8 h3.2" stroke="#111" stroke-width="1.05"/>
<path d="M188.16,282.6 V295.4 M186.56,282.6 h3.2 M186.56,295.4 h3.2" stroke="#111" stroke-width="1.05"/>
<path d="M167.16,258.3 H178.36" stroke="#bb4a36" stroke-width="1.5"/>
<path d="M173.06,254.8 L173.06,251.75 M173.06,254.8 L175.96,253.86 M173.06,254.8 L174.85,257.27 M173.06,254.8 L171.27,257.27 M173.06,254.8 L170.16,253.86 " stroke="#a4522e" stroke-width="1.5" stroke-linecap="butt" fill="none"/>
<text x="177.96" y="338.1" font-size="7.2" font-weight="bold" fill="#111" stroke="#111" stroke-width="0.22" text-anchor="middle" textLength="27.65" lengthAdjust="spacingAndGlyphs">R_MOF</text>
<rect x="205.99" y="290" width="10.2" height="40" fill="#2166c2" stroke="#140a14" stroke-width="1.3"/>
<rect x="216.19" y="269.2" width="10.2" height="60.8" fill="#e05ef0" stroke="#140a14" stroke-width="1.3"/>
<rect x="226.39" y="292.3" width="10.2" height="37.7" fill="#e68e0e" stroke="#140a14" stroke-width="1.3"/>
<path d="M211.09,283.7 V296.8 M209.49,283.7 h3.2 M209.49,296.8 h3.2" stroke="#111" stroke-width="1.05"/>
<path d="M221.29,263.2 V275.4 M219.69,263.2 h3.2 M219.69,275.4 h3.2" stroke="#111" stroke-width="1.05"/>
<path d="M231.49,286.3 V298.6 M229.89,286.3 h3.2 M229.89,298.6 h3.2" stroke="#111" stroke-width="1.05"/>
<path d="M210.49,260.8 H221.69" stroke="#bb4a36" stroke-width="1.5"/>
<path d="M216.39,257.6 L216.39,254.55 M216.39,257.6 L219.29,256.66 M216.39,257.6 L218.18,260.07 M216.39,257.6 L214.6,260.07 M216.39,257.6 L213.49,256.66 " stroke="#a4522e" stroke-width="1.5" stroke-linecap="butt" fill="none"/>
<text x="221.29" y="338.1" font-size="7.2" font-weight="bold" fill="#111" stroke="#111" stroke-width="0.22" text-anchor="middle" textLength="32.05" lengthAdjust="spacingAndGlyphs">R_POPE</text>
<rect x="249.32" y="285.4" width="10.2" height="44.6" fill="#2166c2" stroke="#140a14" stroke-width="1.3"/>
<rect x="259.52" y="264" width="10.2" height="66" fill="#e05ef0" stroke="#140a14" stroke-width="1.3"/>
<rect x="269.72" y="288" width="10.2" height="42" fill="#e68e0e" stroke="#140a14" stroke-width="1.3"/>
<path d="M254.42,278.3 V293.5 M252.82,278.3 h3.2 M252.82,293.5 h3.2" stroke="#111" stroke-width="1.05"/>
<path d="M264.62,257.2 V271.4 M263.02,257.2 h3.2 M263.02,271.4 h3.2" stroke="#111" stroke-width="1.05"/>
<path d="M274.82,281.4 V295.4 M273.22,281.4 h3.2 M273.22,295.4 h3.2" stroke="#111" stroke-width="1.05"/>
<path d="M253.82,254.6 H265.02" stroke="#bb4a36" stroke-width="1.5"/>
<path d="M259.72,251.3 L259.72,248.25 M259.72,251.3 L262.62,250.36 M259.72,251.3 L261.51,253.77 M259.72,251.3 L257.93,253.77 M259.72,251.3 L256.82,250.36 " stroke="#a4522e" stroke-width="1.5" stroke-linecap="butt" fill="none"/>
<text x="264.62" y="338.1" font-size="7.2" font-weight="bold" fill="#111" stroke="#111" stroke-width="0.22" text-anchor="middle" textLength="32.92" lengthAdjust="spacingAndGlyphs">R_PORB</text>
<rect x="292.65" y="289.2" width="10.2" height="40.8" fill="#2166c2" stroke="#140a14" stroke-width="1.3"/>
<rect x="302.85" y="269.5" width="10.2" height="60.5" fill="#e05ef0" stroke="#140a14" stroke-width="1.3"/>
<rect x="313.05" y="293.5" width="10.2" height="36.5" fill="#e68e0e" stroke="#140a14" stroke-width="1.3"/>
<path d="M297.75,283.2 V296.5 M296.15,283.2 h3.2 M296.15,296.5 h3.2" stroke="#111" stroke-width="1.05"/>
<path d="M307.95,263.2 V276.8 M306.35,263.2 h3.2 M306.35,276.8 h3.2" stroke="#111" stroke-width="1.05"/>
<path d="M318.15,287.4 V299.5 M316.55,287.4 h3.2 M316.55,299.5 h3.2" stroke="#111" stroke-width="1.05"/>
<path d="M297.15,260.5 H308.35" stroke="#bb4a36" stroke-width="1.5"/>
<path d="M303.05,257.3 L303.05,254.25 M303.05,257.3 L305.95,256.36 M303.05,257.3 L304.84,259.77 M303.05,257.3 L301.26,259.77 M303.05,257.3 L300.15,256.36 " stroke="#a4522e" stroke-width="1.5" stroke-linecap="butt" fill="none"/>
<text x="307.95" y="338.1" font-size="7.2" font-weight="bold" fill="#111" stroke="#111" stroke-width="0.22" text-anchor="middle" textLength="26.33" lengthAdjust="spacingAndGlyphs">L_RAC</text>
<rect x="335.98" y="287.7" width="10.2" height="42.3" fill="#2166c2" stroke="#140a14" stroke-width="1.3"/>
<rect x="346.18" y="268" width="10.2" height="62" fill="#e05ef0" stroke="#140a14" stroke-width="1.3"/>
<rect x="356.38" y="288" width="10.2" height="42" fill="#e68e0e" stroke="#140a14" stroke-width="1.3"/>
<path d="M341.08,281.4 V294 M339.48,281.4 h3.2 M339.48,294 h3.2" stroke="#111" stroke-width="1.05"/>
<path d="M351.28,262 V274.6 M349.68,262 h3.2 M349.68,274.6 h3.2" stroke="#111" stroke-width="1.05"/>
<path d="M361.48,282.6 V294 M359.88,282.6 h3.2 M359.88,294 h3.2" stroke="#111" stroke-width="1.05"/>
<path d="M340.48,258.6 H351.68" stroke="#bb4a36" stroke-width="1.5"/>
<path d="M346.38,255.4 L346.38,252.35 M346.38,255.4 L349.28,254.46 M346.38,255.4 L348.17,257.87 M346.38,255.4 L344.59,257.87 M346.38,255.4 L343.48,254.46 " stroke="#a4522e" stroke-width="1.5" stroke-linecap="butt" fill="none"/>
<text x="351.28" y="338.1" font-size="7.2" font-weight="bold" fill="#111" stroke="#111" stroke-width="0.22" text-anchor="middle" textLength="27.21" lengthAdjust="spacingAndGlyphs">R_RMF</text>
<path d="M68.5,359.6 V444.2 H530" fill="none" stroke="#000" stroke-width="1.5"/>
<path d="M68.5,360 h3" stroke="#000" stroke-width="1.3"/>
<text x="64.6" y="362.6" font-size="7.3" font-weight="bold" fill="#0d0d0d" stroke="#0d0d0d" stroke-width="0.22" text-anchor="end" textLength="15.57" lengthAdjust="spacingAndGlyphs">0.73</text>
<path d="M68.5,391.5 h3" stroke="#000" stroke-width="1.3"/>
<text x="64.6" y="394.1" font-size="7.3" font-weight="bold" fill="#0d0d0d" stroke="#0d0d0d" stroke-width="0.22" text-anchor="end" textLength="11.12" lengthAdjust="spacingAndGlyphs">0.7</text>
<path d="M68.5,444.2 h3" stroke="#000" stroke-width="1.3"/>
<text x="64.6" y="446.8" font-size="7.3" font-weight="bold" fill="#0d0d0d" stroke="#0d0d0d" stroke-width="0.22" text-anchor="end" textLength="15.57" lengthAdjust="spacingAndGlyphs">0.65</text>
<rect x="74.9" y="379.5" width="10.6" height="64.7" fill="#2166c2" stroke="#140a14" stroke-width="1.3"/>
<rect x="85.5" y="391" width="10.6" height="53.2" fill="#e05ef0" stroke="#140a14" stroke-width="1.3"/>
<rect x="96.1" y="379.5" width="10.6" height="64.7" fill="#e68e0e" stroke="#140a14" stroke-width="1.3"/>
<path d="M80.2,376.4 V382.7 M78.6,376.4 h3.2 M78.6,382.7 h3.2" stroke="#111" stroke-width="1.05"/>
<path d="M90.8,386.4 V394.5 M89.2,386.4 h3.2 M89.2,394.5 h3.2" stroke="#111" stroke-width="1.05"/>
<path d="M101.4,376.4 V382.7 M99.8,376.4 h3.2 M99.8,382.7 h3.2" stroke="#111" stroke-width="1.05"/>
<path d="M79.6,374 H91.2" stroke="#bb4a36" stroke-width="1.5"/>
<path d="M85.7,371.2 L85.7,368.15 M85.7,371.2 L88.6,370.26 M85.7,371.2 L87.49,373.67 M85.7,371.2 L83.91,373.67 M85.7,371.2 L82.8,370.26 " stroke="#a4522e" stroke-width="1.5" stroke-linecap="butt" fill="none"/>
<text x="90.8" y="452.3" font-size="7.2" font-weight="bold" fill="#111" stroke="#111" stroke-width="0.22" text-anchor="middle" textLength="26.33" lengthAdjust="spacingAndGlyphs">L_CAC</text>
<rect x="121.64" y="389.6" width="10.6" height="54.6" fill="#2166c2" stroke="#140a14" stroke-width="1.3"/>
<rect x="132.24" y="401.8" width="10.6" height="42.4" fill="#e05ef0" stroke="#140a14" stroke-width="1.3"/>
<rect x="142.84" y="387.3" width="10.6" height="56.9" fill="#e68e0e" stroke="#140a14" stroke-width="1.3"/>
<path d="M126.94,386.4 V392.7 M125.34,386.4 h3.2 M125.34,392.7 h3.2" stroke="#111" stroke-width="1.05"/>
<path d="M137.54,397.6 V406.4 M135.94,397.6 h3.2 M135.94,406.4 h3.2" stroke="#111" stroke-width="1.05"/>
<path d="M148.14,383.6 V391.5 M146.54,383.6 h3.2 M146.54,391.5 h3.2" stroke="#111" stroke-width="1.05"/>
<path d="M126.34,384.2 H137.94" stroke="#bb4a36" stroke-width="1.5"/>
<path d="M132.44,380.8 L132.44,377.75 M132.44,380.8 L135.34,379.86 M132.44,380.8 L134.23,383.27 M132.44,380.8 L130.65,383.27 M132.44,380.8 L129.54,379.86 " stroke="#a4522e" stroke-width="1.5" stroke-linecap="butt" fill="none"/>
<text x="137.54" y="452.3" font-size="7.2" font-weight="bold" fill="#111" stroke="#111" stroke-width="0.22" text-anchor="middle" textLength="25.02" lengthAdjust="spacingAndGlyphs">L_ENT</text>
<rect x="168.38" y="385.8" width="10.6" height="58.4" fill="#2166c2" stroke="#140a14" stroke-width="1.3"/>
<rect x="178.98" y="398.7" width="10.6" height="45.5" fill="#e05ef0" stroke="#140a14" stroke-width="1.3"/>
<rect x="189.58" y="384.2" width="10.6" height="60" fill="#e68e0e" stroke="#140a14" stroke-width="1.3"/>
<path d="M173.68,382.4 V390.4 M172.08,382.4 h3.2 M172.08,390.4 h3.2" stroke="#111" stroke-width="1.05"/>
<path d="M184.28,394.5 V402.7 M182.68,394.5 h3.2 M182.68,402.7 h3.2" stroke="#111" stroke-width="1.05"/>
<path d="M194.88,380.5 V388.2 M193.28,380.5 h3.2 M193.28,388.2 h3.2" stroke="#111" stroke-width="1.05"/>
<path d="M173.08,380.5 H184.68" stroke="#bb4a36" stroke-width="1.5"/>
<path d="M179.18,377.8 L179.18,374.75 M179.18,377.8 L182.08,376.86 M179.18,377.8 L180.97,380.27 M179.18,377.8 L177.39,380.27 M179.18,377.8 L176.28,376.86 " stroke="#a4522e" stroke-width="1.5" stroke-linecap="butt" fill="none"/>
<text x="184.28" y="452.3" font-size="7.2" font-weight="bold" fill="#111" stroke="#111" stroke-width="0.22" text-anchor="middle" textLength="23.27" lengthAdjust="spacingAndGlyphs">R_INS</text>
<rect x="215.12" y="386.4" width="10.6" height="57.8" fill="#2166c2" stroke="#140a14" stroke-width="1.3"/>
<rect x="225.72" y="399.5" width="10.6" height="44.7" fill="#e05ef0" stroke="#140a14" stroke-width="1.3"/>
<rect x="236.32" y="383.3" width="10.6" height="60.9" fill="#e68e0e" stroke="#140a14" stroke-width="1.3"/>
<path d="M220.42,382.7 V391.5 M218.82,382.7 h3.2 M218.82,391.5 h3.2" stroke="#111" stroke-width="1.05"/>
<path d="M231.02,395 V404.5 M229.42,395 h3.2 M229.42,404.5 h3.2" stroke="#111" stroke-width="1.05"/>
<path d="M241.62,379 V387.8 M240.02,379 h3.2 M240.02,387.8 h3.2" stroke="#111" stroke-width="1.05"/>
<path d="M219.82,381 H231.42" stroke="#bb4a36" stroke-width="1.5"/>
<path d="M225.92,377.8 L225.92,374.75 M225.92,377.8 L228.82,376.86 M225.92,377.8 L227.71,380.27 M225.92,377.8 L224.13,380.27 M225.92,377.8 L223.02,376.86 " stroke="#a4522e" stroke-width="1.5" stroke-linecap="butt" fill="none"/>
<text x="231.02" y="452.3" font-size="7.2" font-weight="bold" fill="#111" stroke="#111" stroke-width="0.22" text-anchor="middle" textLength="25.89" lengthAdjust="spacingAndGlyphs">R_LOF</text>
<rect x="261.86" y="366.4" width="10.6" height="77.8" fill="#2166c2" stroke="#140a14" stroke-width="1.3"/>
<rect x="272.46" y="373.6" width="10.6" height="70.6" fill="#e05ef0" stroke="#140a14" stroke-width="1.3"/>
<rect x="283.06" y="368.2" width="10.6" height="76" fill="#e68e0e" stroke="#140a14" stroke-width="1.3"/>
<path d="M267.16,363 V370.4 M265.56,363 h3.2 M265.56,370.4 h3.2" stroke="#111" stroke-width="1.05"/>
<path d="M277.76,370.4 V377.3 M276.16,370.4 h3.2 M276.16,377.3 h3.2" stroke="#111" stroke-width="1.05"/>
<path d="M288.36,364.5 V372.7 M286.76,364.5 h3.2 M286.76,372.7 h3.2" stroke="#111" stroke-width="1.05"/>
<path d="M266.56,361 H278.16" stroke="#bb4a36" stroke-width="1.5"/>
<path d="M272.66,358.1 L272.66,355.05 M272.66,358.1 L275.56,357.16 M272.66,358.1 L274.45,360.57 M272.66,358.1 L270.87,360.57 M272.66,358.1 L269.76,357.16 " stroke="#a4522e" stroke-width="1.5" stroke-linecap="butt" fill="none"/>
<text x="277.76" y="452.3" font-size="7.2" font-weight="bold" fill="#111" stroke="#111" stroke-width="0.22" text-anchor="middle" textLength="26.77" lengthAdjust="spacingAndGlyphs">L_MOF</text>
<rect x="308.6" y="387" width="10.6" height="57.2" fill="#2166c2" stroke="#140a14" stroke-width="1.3"/>
<rect x="319.2" y="401.5" width="10.6" height="42.7" fill="#e05ef0" stroke="#140a14" stroke-width="1.3"/>
<rect x="329.8" y="385.5" width="10.6" height="58.7" fill="#e68e0e" stroke="#140a14" stroke-width="1.3"/>
<path d="M313.9,382.4 V391.5 M312.3,382.4 h3.2 M312.3,391.5 h3.2" stroke="#111" stroke-width="1.05"/>
<path d="M324.5,397 V406 M322.9,397 h3.2 M322.9,406 h3.2" stroke="#111" stroke-width="1.05"/>
<path d="M335.1,381.3 V390 M333.5,381.3 h3.2 M333.5,390 h3.2" stroke="#111" stroke-width="1.05"/>
<path d="M313.3,381 H324.9" stroke="#bb4a36" stroke-width="1.5"/>
<path d="M319.4,377.8 L319.4,374.75 M319.4,377.8 L322.3,376.86 M319.4,377.8 L321.19,380.27 M319.4,377.8 L317.61,380.27 M319.4,377.8 L316.5,376.86 " stroke="#a4522e" stroke-width="1.5" stroke-linecap="butt" fill="none"/>
<text x="324.5" y="452.3" font-size="7.2" font-weight="bold" fill="#111" stroke="#111" stroke-width="0.22" text-anchor="middle" textLength="32.05" lengthAdjust="spacingAndGlyphs">R_POPE</text>
<rect x="355.34" y="370.4" width="10.6" height="73.8" fill="#2166c2" stroke="#140a14" stroke-width="1.3"/>
<rect x="365.94" y="381.3" width="10.6" height="62.9" fill="#e05ef0" stroke="#140a14" stroke-width="1.3"/>
<rect x="376.54" y="374" width="10.6" height="70.2" fill="#e68e0e" stroke="#140a14" stroke-width="1.3"/>
<path d="M360.64,367.3 V373.6 M359.04,367.3 h3.2 M359.04,373.6 h3.2" stroke="#111" stroke-width="1.05"/>
<path d="M371.24,377.3 V385 M369.64,377.3 h3.2 M369.64,385 h3.2" stroke="#111" stroke-width="1.05"/>
<path d="M381.84,370.4 V377.6 M380.24,370.4 h3.2 M380.24,377.6 h3.2" stroke="#111" stroke-width="1.05"/>
<path d="M360.04,365.5 H371.64" stroke="#bb4a36" stroke-width="1.5"/>
<path d="M366.14,362.6 L366.14,359.55 M366.14,362.6 L369.04,361.66 M366.14,362.6 L367.93,365.07 M366.14,362.6 L364.35,365.07 M366.14,362.6 L363.24,361.66 " stroke="#a4522e" stroke-width="1.5" stroke-linecap="butt" fill="none"/>
<text x="371.24" y="452.3" font-size="7.2" font-weight="bold" fill="#111" stroke="#111" stroke-width="0.22" text-anchor="middle" textLength="26.78" lengthAdjust="spacingAndGlyphs">R_PCU</text>
<rect x="402.08" y="383.4" width="10.6" height="60.8" fill="#2166c2" stroke="#140a14" stroke-width="1.3"/>
<rect x="412.68" y="395.4" width="10.6" height="48.8" fill="#e05ef0" stroke="#140a14" stroke-width="1.3"/>
<rect x="423.28" y="380.5" width="10.6" height="63.7" fill="#e68e0e" stroke="#140a14" stroke-width="1.3"/>
<path d="M407.38,379.5 V387 M405.78,379.5 h3.2 M405.78,387 h3.2" stroke="#111" stroke-width="1.05"/>
<path d="M417.98,391 V399.7 M416.38,391 h3.2 M416.38,399.7 h3.2" stroke="#111" stroke-width="1.05"/>
<path d="M428.58,377.3 V385 M426.98,377.3 h3.2 M426.98,385 h3.2" stroke="#111" stroke-width="1.05"/>
<path d="M406.78,378.4 H418.38" stroke="#bb4a36" stroke-width="1.5"/>
<path d="M412.88,375.2 L412.88,372.15 M412.88,375.2 L415.78,374.26 M412.88,375.2 L414.67,377.67 M412.88,375.2 L411.09,377.67 M412.88,375.2 L409.98,374.26 " stroke="#a4522e" stroke-width="1.5" stroke-linecap="butt" fill="none"/>
<text x="417.98" y="452.3" font-size="7.2" font-weight="bold" fill="#111" stroke="#111" stroke-width="0.22" text-anchor="middle" textLength="26.33" lengthAdjust="spacingAndGlyphs">L_RAC</text>
<rect x="448.82" y="387" width="10.6" height="57.2" fill="#2166c2" stroke="#140a14" stroke-width="1.3"/>
<rect x="459.42" y="399.7" width="10.6" height="44.5" fill="#e05ef0" stroke="#140a14" stroke-width="1.3"/>
<rect x="470.02" y="385.6" width="10.6" height="58.6" fill="#e68e0e" stroke="#140a14" stroke-width="1.3"/>
<path d="M454.12,382.7 V391.5 M452.52,382.7 h3.2 M452.52,391.5 h3.2" stroke="#111" stroke-width="1.05"/>
<path d="M464.72,394.7 V404.1 M463.12,394.7 h3.2 M463.12,404.1 h3.2" stroke="#111" stroke-width="1.05"/>
<path d="M475.32,382.3 V389.3 M473.72,382.3 h3.2 M473.72,389.3 h3.2" stroke="#111" stroke-width="1.05"/>
<path d="M453.52,381 H465.12" stroke="#bb4a36" stroke-width="1.5"/>
<path d="M459.62,378.1 L459.62,375.05 M459.62,378.1 L462.52,377.16 M459.62,378.1 L461.41,380.57 M459.62,378.1 L457.83,380.57 M459.62,378.1 L456.72,377.16 " stroke="#a4522e" stroke-width="1.5" stroke-linecap="butt" fill="none"/>
<text x="464.72" y="452.3" font-size="7.2" font-weight="bold" fill="#111" stroke="#111" stroke-width="0.22" text-anchor="middle" textLength="27.21" lengthAdjust="spacingAndGlyphs">R_RMF</text>
<rect x="495.56" y="375" width="10.6" height="69.2" fill="#2166c2" stroke="#140a14" stroke-width="1.3"/>
<rect x="506.16" y="386.3" width="10.6" height="57.9" fill="#e05ef0" stroke="#140a14" stroke-width="1.3"/>
<rect x="516.76" y="372.1" width="10.6" height="72.1" fill="#e68e0e" stroke="#140a14" stroke-width="1.3"/>
<path d="M500.86,371 V379.4 M499.26,371 h3.2 M499.26,379.4 h3.2" stroke="#111" stroke-width="1.05"/>
<path d="M511.46,382 V390.6 M509.86,382 h3.2 M509.86,390.6 h3.2" stroke="#111" stroke-width="1.05"/>
<path d="M522.06,369 V376 M520.46,369 h3.2 M520.46,376 h3.2" stroke="#111" stroke-width="1.05"/>
<path d="M500.26,369.3 H511.86" stroke="#bb4a36" stroke-width="1.5"/>
<path d="M506.36,366.3 L506.36,363.25 M506.36,366.3 L509.26,365.36 M506.36,366.3 L508.15,368.77 M506.36,366.3 L504.57,368.77 M506.36,366.3 L503.46,365.36 " stroke="#a4522e" stroke-width="1.5" stroke-linecap="butt" fill="none"/>
<text x="511.46" y="452.3" font-size="7.2" font-weight="bold" fill="#111" stroke="#111" stroke-width="0.22" text-anchor="middle" textLength="25.46" lengthAdjust="spacingAndGlyphs">L_SFG</text>
<path d="M68.3,473.2 V559 H109.4" fill="none" stroke="#000" stroke-width="1.5"/>
<path d="M68.3,473.6 h3" stroke="#000" stroke-width="1.3"/>
<text x="64.4" y="476.2" font-size="7.3" font-weight="bold" fill="#0d0d0d" stroke="#0d0d0d" stroke-width="0.22" text-anchor="end" textLength="20.02" lengthAdjust="spacingAndGlyphs">0.028</text>
<path d="M68.3,505.9 h3" stroke="#000" stroke-width="1.3"/>
<text x="64.4" y="508.5" font-size="7.3" font-weight="bold" fill="#0d0d0d" stroke="#0d0d0d" stroke-width="0.22" text-anchor="end" textLength="20.02" lengthAdjust="spacingAndGlyphs">0.025</text>
<path d="M68.3,559 h3" stroke="#000" stroke-width="1.3"/>
<text x="64.4" y="561.6" font-size="7.3" font-weight="bold" fill="#0d0d0d" stroke="#0d0d0d" stroke-width="0.22" text-anchor="end" textLength="15.57" lengthAdjust="spacingAndGlyphs">0.02</text>
<rect x="75.2" y="495" width="10.2" height="64" fill="#2166c2" stroke="#140a14" stroke-width="1.3"/>
<rect x="85.4" y="510.6" width="10.2" height="48.4" fill="#e05ef0" stroke="#140a14" stroke-width="1.3"/>
<rect x="95.6" y="496" width="10.2" height="63" fill="#e68e0e" stroke="#140a14" stroke-width="1.3"/>
<path d="M80.3,490 V500.7 M78.7,490 h3.2 M78.7,500.7 h3.2" stroke="#111" stroke-width="1.05"/>
<path d="M90.5,505 V516 M88.9,505 h3.2 M88.9,516 h3.2" stroke="#111" stroke-width="1.05"/>
<path d="M100.7,491.6 V501.5 M99.1,491.6 h3.2 M99.1,501.5 h3.2" stroke="#111" stroke-width="1.05"/>
<path d="M79.7,487.8 H90.9" stroke="#bb4a36" stroke-width="1.5"/>
<path d="M85.6,484.8 L85.6,481.75 M85.6,484.8 L88.5,483.86 M85.6,484.8 L87.39,487.27 M85.6,484.8 L83.81,487.27 M85.6,484.8 L82.7,483.86 " stroke="#a4522e" stroke-width="1.5" stroke-linecap="butt" fill="none"/>
<text x="90.5" y="567.2" font-size="7.2" font-weight="bold" fill="#111" stroke="#111" stroke-width="0.22" text-anchor="middle" textLength="26.77" lengthAdjust="spacingAndGlyphs">L_MOF</text>
<path d="M251.7,472.6 V558 H328.6" fill="none" stroke="#000" stroke-width="1.5"/>
<path d="M251.7,473 h3" stroke="#000" stroke-width="1.3"/>
<text x="249" y="475.6" font-size="7.3" font-weight="bold" fill="#0d0d0d" stroke="#0d0d0d" stroke-width="0.22" text-anchor="end" textLength="15.57" lengthAdjust="spacingAndGlyphs">0.53</text>
<path d="M251.7,505 h3" stroke="#000" stroke-width="1.3"/>
<text x="249" y="507.6" font-size="7.3" font-weight="bold" fill="#0d0d0d" stroke="#0d0d0d" stroke-width="0.22" text-anchor="end" textLength="11.12" lengthAdjust="spacingAndGlyphs">0.5</text>
<path d="M251.7,558 h3" stroke="#000" stroke-width="1.3"/>
<text x="249" y="560.6" font-size="7.3" font-weight="bold" fill="#0d0d0d" stroke="#0d0d0d" stroke-width="0.22" text-anchor="end" textLength="15.57" lengthAdjust="spacingAndGlyphs">0.45</text>
<rect x="258.3" y="525.8" width="10.1" height="32.2" fill="#2166c2" stroke="#140a14" stroke-width="1.3"/>
<rect x="268.4" y="490" width="10.1" height="68" fill="#e05ef0" stroke="#140a14" stroke-width="1.3"/>
<rect x="278.5" y="528.2" width="10.1" height="29.8" fill="#e68e0e" stroke="#140a14" stroke-width="1.3"/>
<path d="M263.35,510.6 V540 M261.75,510.6 h3.2 M261.75,540 h3.2" stroke="#111" stroke-width="1.05"/>
<path d="M273.45,482.5 V499.2 M271.85,482.5 h3.2 M271.85,499.2 h3.2" stroke="#111" stroke-width="1.05"/>
<path d="M283.55,513.4 V543.2 M281.95,513.4 h3.2 M281.95,543.2 h3.2" stroke="#111" stroke-width="1.05"/>
<path d="M262.75,479.8 H273.85" stroke="#bb4a36" stroke-width="1.5"/>
<path d="M268.6,477.2 L268.6,474.15 M268.6,477.2 L271.5,476.26 M268.6,477.2 L270.39,479.67 M268.6,477.2 L266.81,479.67 M268.6,477.2 L265.7,476.26 " stroke="#a4522e" stroke-width="1.5" stroke-linecap="butt" fill="none"/>
<text x="273.45" y="565.6" font-size="7.2" font-weight="bold" fill="#111" stroke="#111" stroke-width="0.22" text-anchor="middle" textLength="25.02" lengthAdjust="spacingAndGlyphs">L_FUS</text>
<rect x="298.4" y="540.4" width="10.1" height="17.6" fill="#2166c2" stroke="#140a14" stroke-width="1.3"/>
<rect x="308.5" y="508.3" width="10.1" height="49.7" fill="#e05ef0" stroke="#140a14" stroke-width="1.3"/>
<rect x="318.6" y="528.2" width="10.1" height="29.8" fill="#e68e0e" stroke="#140a14" stroke-width="1.3"/>
<path d="M303.45,528 V553.9 M301.85,528 h3.2 M301.85,553.9 h3.2" stroke="#111" stroke-width="1.05"/>
<path d="M313.55,500.1 V516.6 M311.95,500.1 h3.2 M311.95,516.6 h3.2" stroke="#111" stroke-width="1.05"/>
<path d="M323.65,518.5 V538.7 M322.05,518.5 h3.2 M322.05,538.7 h3.2" stroke="#111" stroke-width="1.05"/>
<path d="M302.85,497.7 H313.95" stroke="#bb4a36" stroke-width="1.5"/>
<path d="M308.7,494.7 L308.7,491.65 M308.7,494.7 L311.6,493.76 M308.7,494.7 L310.49,497.17 M308.7,494.7 L306.91,497.17 M308.7,494.7 L305.8,493.76 " stroke="#a4522e" stroke-width="1.5" stroke-linecap="butt" fill="none"/>
<text x="313.55" y="565.6" font-size="7.2" font-weight="bold" fill="#111" stroke="#111" stroke-width="0.22" text-anchor="middle" textLength="26.78" lengthAdjust="spacingAndGlyphs">R_PCU</text>
<rect x="382.6" y="257.4" width="34.6" height="7.2" fill="#1f67c4" stroke="#1a1030" stroke-width="1.3"/>
<text x="400.2" y="276" font-size="8.7" font-weight="bold" fill="#111" stroke="#111" stroke-width="0.22" text-anchor="middle" textLength="34.8" lengthAdjust="spacingAndGlyphs">Normal</text>
<rect x="382.6" y="284.8" width="34.6" height="6.6" fill="#b967f2" stroke="#1a1030" stroke-width="1.3"/>
<text x="400.2" y="301.4" font-size="8.7" font-weight="bold" fill="#111" stroke="#111" stroke-width="0.22" text-anchor="middle" textLength="25.8" lengthAdjust="spacingAndGlyphs">Night</text>
<rect x="382.6" y="310.4" width="34.6" height="7" fill="#d6920f" stroke="#1a1030" stroke-width="1.3"/>
<text x="400.2" y="327.9" font-size="8.7" font-weight="bold" fill="#111" stroke="#111" stroke-width="0.22" text-anchor="middle" textLength="27.5" lengthAdjust="spacingAndGlyphs">Noise</text>
</svg>
</body></html>
